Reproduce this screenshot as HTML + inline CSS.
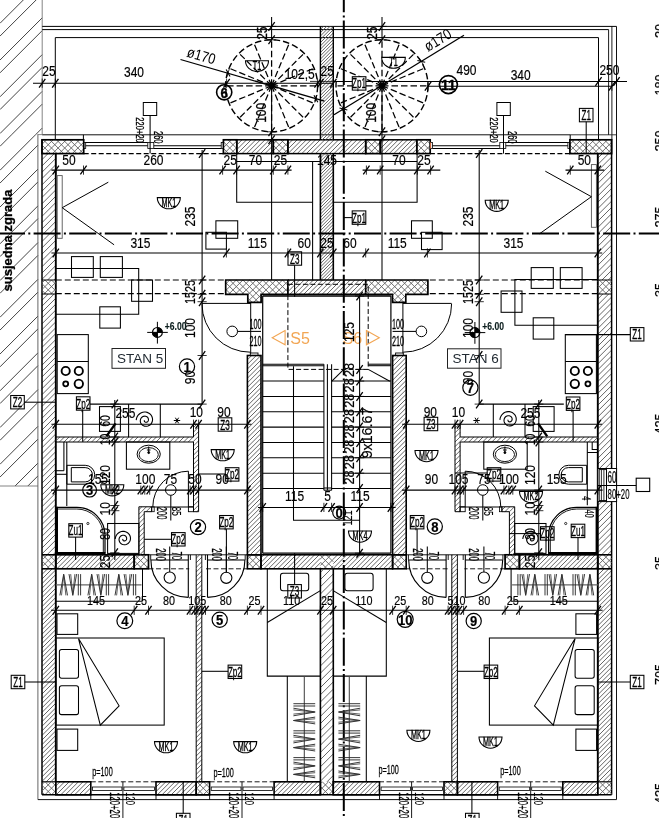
<!DOCTYPE html><html><head><meta charset="utf-8"><title>Tlocrt</title><style>html,body{margin:0;padding:0;background:#fff}svg{display:block}text{font-family:"Liberation Sans",sans-serif}svg{will-change:transform}</style></head><body><svg width="659" height="818" viewBox="0 0 659 818"><rect width="659" height="818" fill="#fff"/><path d="M0 23.3L23.3 0M0 60.05L42.2 17.85M0 96.8L42.2 54.6M0 133.55L42.2 91.35M36.1 134.2L42.2 128.1" fill="none" stroke="#444" stroke-width="1"/>
<path d="M0 170.3L36.1 134.2M0 207.05L37.9 169.15M0 243.8L37.9 205.9M0 280.55L37.9 242.65M0 317.3L37.9 279.4M0 354.05L37.9 316.15M0 390.8L37.9 352.9M0 427.55L37.9 389.65M0 464.3L37.9 426.4M15.05 486L37.9 463.15" fill="none" stroke="#444" stroke-width="1"/>
<path d="M0 36.1L36.1 0M0 72.85L42.2 30.65M0 109.6L42.2 67.4M12.15 134.2L42.2 104.15" fill="none" stroke="#444" stroke-width="1"/>
<path d="M0 146.35L12.15 134.2M0 183.1L37.9 145.2M0 219.85L37.9 181.95M0 256.6L37.9 218.7M0 293.35L37.9 255.45M0 330.1L37.9 292.2M0 366.85L37.9 328.95M0 403.6L37.9 365.7M0 440.35L37.9 402.45M0 477.1L37.9 439.2M27.85 486L37.9 475.95" fill="none" stroke="#444" stroke-width="1"/>
<line x1="42.2" y1="0" x2="42.2" y2="134.2" stroke="#777" stroke-width="0.9"/>
<line x1="0" y1="486" x2="37.9" y2="486" stroke="#777" stroke-width="0.9"/>
<text transform="translate(12.2 291.5) rotate(-90) scale(1 1)" font-size="13" text-anchor="start" fill="#000" font-weight="bold" stroke="#000" stroke-width="0.3">susjedna zgrada</text>
<line x1="37.9" y1="134.2" x2="37.9" y2="799.6" stroke="#555" stroke-width="0.9"/>
<line x1="37.9" y1="799.6" x2="616.5" y2="799.6" stroke="#111" stroke-width="1"/>
<line x1="616.5" y1="26.4" x2="616.5" y2="799.6" stroke="#111" stroke-width="1"/>
<line x1="42.2" y1="26.4" x2="616.5" y2="26.4" stroke="#000" stroke-width="1"/>
<line x1="42.2" y1="29.6" x2="608.6" y2="29.6" stroke="#000" stroke-width="1"/>
<line x1="608.6" y1="29.6" x2="608.6" y2="135" stroke="#000" stroke-width="0.9"/>
<line x1="611.9" y1="26.4" x2="611.9" y2="140" stroke="#000" stroke-width="0.9"/>
<line x1="55.3" y1="37.6" x2="598.5" y2="37.6" stroke="#000" stroke-width="1"/>
<line x1="55.3" y1="37.6" x2="55.3" y2="140" stroke="#000" stroke-width="1"/>
<line x1="598.5" y1="37.6" x2="598.5" y2="140" stroke="#000" stroke-width="1"/>
<line x1="37.9" y1="134.6" x2="42.2" y2="134.6" stroke="#777" stroke-width="0.9"/>
<line x1="42.2" y1="134.8" x2="570" y2="134.8" stroke="#111" stroke-width="1"/>
<line x1="570" y1="134.8" x2="616.5" y2="134.8" stroke="#222" stroke-width="0.9"/>
<line x1="83.4" y1="134.8" x2="83.4" y2="140" stroke="#000" stroke-width="1"/>
<line x1="570.2" y1="134.8" x2="570.2" y2="140" stroke="#000" stroke-width="1"/>
<path d="M42 159.6L48 153.6M42 165.9L54.3 153.6M42 172.2L55.8 158.4M42 178.5L55.8 164.7M42 184.8L55.8 171M42 191.1L55.8 177.3M42 197.4L55.8 183.6M42 203.7L55.8 189.9M42 210L55.8 196.2M42 216.3L55.8 202.5M42 222.6L55.8 208.8M42 228.9L55.8 215.1M42 235.2L55.8 221.4M42 241.5L55.8 227.7M42 247.8L55.8 234M42 254.1L55.8 240.3M42 260.4L55.8 246.6M42 266.7L55.8 252.9M42 273L55.8 259.2M42 279.3L55.8 265.5M47.6 280L55.8 271.8M53.9 280L55.8 278.1" fill="none" stroke="#555" stroke-width="0.9"/>
<path d="M42 294.3L42.3 294M42 300.2L48.2 294M42 306.1L54.1 294M42 312L55.8 298.2M42 317.9L55.8 304.1M42 323.8L55.8 310M42 329.7L55.8 315.9M42 335.6L55.8 321.8M42 341.5L55.8 327.7M42 347.4L55.8 333.6M42 353.3L55.8 339.5M42 359.2L55.8 345.4M42 365.1L55.8 351.3M42 371L55.8 357.2M42 376.9L55.8 363.1M42 382.8L55.8 369M42 388.7L55.8 374.9M42 394.6L55.8 380.8M42 400.5L55.8 386.7M42 406.4L55.8 392.6M42 412.3L55.8 398.5M42 418.2L55.8 404.4M42 424.1L55.8 410.3M42 430L55.8 416.2M42 435.9L55.8 422.1M42 441.8L55.8 428M42 447.7L55.8 433.9M42 453.6L55.8 439.8M42 459.5L55.8 445.7M42 465.4L55.8 451.6M42 471.3L55.8 457.5M42 477.2L55.8 463.4M42 483.1L55.8 469.3M42 489L55.8 475.2M42 494.9L55.8 481.1M42 500.8L55.8 487M42 506.7L55.8 492.9M42 512.6L55.8 498.8M42 518.5L55.8 504.7M42 524.4L55.8 510.6M42 530.3L55.8 516.5M42 536.2L55.8 522.4M42 542.1L55.8 528.3M42 548L55.8 534.2M42 553.9L55.8 540.1M47 554.8L55.8 546M52.9 554.8L55.8 551.9" fill="none" stroke="#555" stroke-width="0.9"/>
<path d="M42 569.8L43 568.8M42 574.4L47.6 568.8M42 579L52.2 568.8M42 583.6L55.8 569.8M42 588.2L55.8 574.4M42 592.8L55.8 579M42 597.4L55.8 583.6M42 602L55.8 588.2M42 606.6L55.8 592.8M42 611.2L55.8 597.4M42 615.8L55.8 602M42 620.4L55.8 606.6M42 625L55.8 611.2M42 629.6L55.8 615.8M42 634.2L55.8 620.4M42 638.8L55.8 625M42 643.4L55.8 629.6M42 648L55.8 634.2M42 652.6L55.8 638.8M42 657.2L55.8 643.4M42 661.8L55.8 648M42 666.4L55.8 652.6M42 671L55.8 657.2M42 675.6L55.8 661.8M42 680.2L55.8 666.4M42 684.8L55.8 671M42 689.4L55.8 675.6M42 694L55.8 680.2M42 698.6L55.8 684.8M42 703.2L55.8 689.4M42 707.8L55.8 694M42 712.4L55.8 698.6M42 717L55.8 703.2M42 721.6L55.8 707.8M42 726.2L55.8 712.4M42 730.8L55.8 717M42 735.4L55.8 721.6M42 740L55.8 726.2M42 744.6L55.8 730.8M42 749.2L55.8 735.4M42 753.8L55.8 740M42 758.4L55.8 744.6M42 763L55.8 749.2M42 767.6L55.8 753.8M42 772.2L55.8 758.4M42 776.8L55.8 763M42 781.4L55.8 767.6M46.2 781.8L55.8 772.2M50.8 781.8L55.8 776.8M55.4 781.8L55.8 781.4" fill="none" stroke="#555" stroke-width="0.9"/>
<line x1="42" y1="139.8" x2="42" y2="794.8" stroke="#000" stroke-width="1.5"/>
<line x1="55.8" y1="153.6" x2="55.8" y2="781.8" stroke="#000" stroke-width="1.9"/>
<path d="M42 144.3L46.5 139.8M42 150.9L53.1 139.8M45.9 153.6L59.7 139.8M52.5 153.6L66.3 139.8M59.1 153.6L72.9 139.8M65.7 153.6L79.5 139.8M72.3 153.6L83.7 142.2M78.9 153.6L83.7 148.8" fill="none" stroke="#606060" stroke-width="0.9"/>
<path d="M42 151.7L43.9 153.6M42 145.1L50.5 153.6M43.3 139.8L57.1 153.6M49.9 139.8L63.7 153.6M56.5 139.8L70.3 153.6M63.1 139.8L76.9 153.6M69.7 139.8L83.5 153.6M76.3 139.8L83.7 147.2M82.9 139.8L83.7 140.6" fill="none" stroke="#606060" stroke-width="0.9"/>
<rect x="42" y="139.8" width="41.7" height="13.8" fill="none" stroke="#000" stroke-width="1.7"/>
<path d="M42 282.9L44.9 280M42 289.5L51.5 280M44.1 294L55.8 282.3M50.7 294L55.8 288.9" fill="none" stroke="#606060" stroke-width="0.9"/>
<path d="M42 290.3L45.7 294M42 283.7L52.3 294M44.9 280L55.8 290.9M51.5 280L55.8 284.3" fill="none" stroke="#606060" stroke-width="0.9"/>
<line x1="42" y1="280" x2="55.8" y2="280" stroke="#000" stroke-width="1"/>
<line x1="42" y1="294" x2="55.8" y2="294" stroke="#000" stroke-width="1"/>
<path d="M42 560.1L47.3 554.8M42 566.7L53.9 554.8M46.5 568.8L55.8 559.5M53.1 568.8L55.8 566.1" fill="none" stroke="#606060" stroke-width="0.9"/>
<path d="M42 567.5L43.3 568.8M42 560.9L49.9 568.8M42.5 554.8L55.8 568.1M49.1 554.8L55.8 561.5" fill="none" stroke="#606060" stroke-width="0.9"/>
<line x1="42" y1="554.8" x2="55.8" y2="554.8" stroke="#000" stroke-width="1.6"/>
<line x1="42" y1="568.8" x2="55.8" y2="568.8" stroke="#000" stroke-width="1.6"/>
<line x1="42" y1="781.8" x2="55.8" y2="781.8" stroke="#000" stroke-width="1.2"/>
<line x1="55.8" y1="781.8" x2="55.8" y2="794.8" stroke="#000" stroke-width="1"/>
<path d="M42 784.5L44.7 781.8M42 791.1L51.3 781.8M44.9 794.8L55.8 783.9M51.5 794.8L55.8 790.5" fill="none" stroke="#606060" stroke-width="0.9"/>
<path d="M42 791.9L44.9 794.8M42 785.3L51.5 794.8M45.1 781.8L55.8 792.5M51.7 781.8L55.8 785.9" fill="none" stroke="#606060" stroke-width="0.9"/>
<path d="M597.8 158.2L602.4 153.6M597.8 164.5L608.7 153.6M597.8 170.8L611.6 157M597.8 177.1L611.6 163.3M597.8 183.4L611.6 169.6M597.8 189.7L611.6 175.9M597.8 196L611.6 182.2M597.8 202.3L611.6 188.5M597.8 208.6L611.6 194.8M597.8 214.9L611.6 201.1M597.8 221.2L611.6 207.4M597.8 227.5L611.6 213.7M597.8 233.8L611.6 220M597.8 240.1L611.6 226.3M597.8 246.4L611.6 232.6M597.8 252.7L611.6 238.9M597.8 259L611.6 245.2M597.8 265.3L611.6 251.5M597.8 271.6L611.6 257.8M597.8 277.9L611.6 264.1M602 280L611.6 270.4M608.3 280L611.6 276.7" fill="none" stroke="#555" stroke-width="0.9"/>
<path d="M597.8 299L602.8 294M597.8 304.9L608.7 294M597.8 310.8L611.6 297M597.8 316.7L611.6 302.9M597.8 322.6L611.6 308.8M597.8 328.5L611.6 314.7M597.8 334.4L611.6 320.6M597.8 340.3L611.6 326.5M597.8 346.2L611.6 332.4M597.8 352.1L611.6 338.3M597.8 358L611.6 344.2M597.8 363.9L611.6 350.1M597.8 369.8L611.6 356M597.8 375.7L611.6 361.9M597.8 381.6L611.6 367.8M597.8 387.5L611.6 373.7M597.8 393.4L611.6 379.6M597.8 399.3L611.6 385.5M597.8 405.2L611.6 391.4M597.8 411.1L611.6 397.3M597.8 417L611.6 403.2M597.8 422.9L611.6 409.1M597.8 428.8L611.6 415M597.8 434.7L611.6 420.9M597.8 440.6L611.6 426.8M597.8 446.5L611.6 432.7M597.8 452.4L611.6 438.6M597.8 458.3L611.6 444.5M597.8 464.2L611.6 450.4M597.8 470.1L611.6 456.3M597.8 476L611.6 462.2M597.8 481.9L611.6 468.1M597.8 487.8L611.6 474M597.8 493.7L611.6 479.9M597.8 499.6L611.6 485.8M597.8 505.5L611.6 491.7M597.8 511.4L611.6 497.6M597.8 517.3L611.6 503.5M597.8 523.2L611.6 509.4M597.8 529.1L611.6 515.3M597.8 535L611.6 521.2M597.8 540.9L611.6 527.1M597.8 546.8L611.6 533M597.8 552.7L611.6 538.9M601.6 554.8L611.6 544.8M607.5 554.8L611.6 550.7" fill="none" stroke="#555" stroke-width="0.9"/>
<path d="M597.8 570.6L599.6 568.8M597.8 575.2L604.2 568.8M597.8 579.8L608.8 568.8M597.8 584.4L611.6 570.6M597.8 589L611.6 575.2M597.8 593.6L611.6 579.8M597.8 598.2L611.6 584.4M597.8 602.8L611.6 589M597.8 607.4L611.6 593.6M597.8 612L611.6 598.2M597.8 616.6L611.6 602.8M597.8 621.2L611.6 607.4M597.8 625.8L611.6 612M597.8 630.4L611.6 616.6M597.8 635L611.6 621.2M597.8 639.6L611.6 625.8M597.8 644.2L611.6 630.4M597.8 648.8L611.6 635M597.8 653.4L611.6 639.6M597.8 658L611.6 644.2M597.8 662.6L611.6 648.8M597.8 667.2L611.6 653.4M597.8 671.8L611.6 658M597.8 676.4L611.6 662.6M597.8 681L611.6 667.2M597.8 685.6L611.6 671.8M597.8 690.2L611.6 676.4M597.8 694.8L611.6 681M597.8 699.4L611.6 685.6M597.8 704L611.6 690.2M597.8 708.6L611.6 694.8M597.8 713.2L611.6 699.4M597.8 717.8L611.6 704M597.8 722.4L611.6 708.6M597.8 727L611.6 713.2M597.8 731.6L611.6 717.8M597.8 736.2L611.6 722.4M597.8 740.8L611.6 727M597.8 745.4L611.6 731.6M597.8 750L611.6 736.2M597.8 754.6L611.6 740.8M597.8 759.2L611.6 745.4M597.8 763.8L611.6 750M597.8 768.4L611.6 754.6M597.8 773L611.6 759.2M597.8 777.6L611.6 763.8M598.2 781.8L611.6 768.4M602.8 781.8L611.6 773M607.4 781.8L611.6 777.6" fill="none" stroke="#555" stroke-width="0.9"/>
<line x1="611.6" y1="139.8" x2="611.6" y2="794.8" stroke="#000" stroke-width="1.5"/>
<line x1="597.8" y1="153.6" x2="597.8" y2="781.8" stroke="#000" stroke-width="1.9"/>
<path d="M569.9 144.4L574.5 139.8M569.9 151L581.1 139.8M573.9 153.6L587.7 139.8M580.5 153.6L594.3 139.8M587.1 153.6L600.9 139.8M593.7 153.6L607.5 139.8M600.3 153.6L611.6 142.3M606.9 153.6L611.6 148.9" fill="none" stroke="#606060" stroke-width="0.9"/>
<path d="M569.9 151.6L571.9 153.6M569.9 145L578.5 153.6M571.3 139.8L585.1 153.6M577.9 139.8L591.7 153.6M584.5 139.8L598.3 153.6M591.1 139.8L604.9 153.6M597.7 139.8L611.5 153.6M604.3 139.8L611.6 147.1M610.9 139.8L611.6 140.5" fill="none" stroke="#606060" stroke-width="0.9"/>
<rect x="569.9" y="139.8" width="41.7" height="13.8" fill="none" stroke="#000" stroke-width="1.7"/>
<path d="M597.8 281.5L599.3 280M597.8 288.1L605.9 280M598.5 294L611.6 280.9M605.1 294L611.6 287.5" fill="none" stroke="#606060" stroke-width="0.9"/>
<path d="M597.8 291.7L600.1 294M597.8 285.1L606.7 294M599.3 280L611.6 292.3M605.9 280L611.6 285.7" fill="none" stroke="#606060" stroke-width="0.9"/>
<line x1="611.6" y1="280" x2="597.8" y2="280" stroke="#000" stroke-width="1"/>
<line x1="611.6" y1="294" x2="597.8" y2="294" stroke="#000" stroke-width="1"/>
<path d="M597.8 558.7L601.7 554.8M597.8 565.3L608.3 554.8M600.9 568.8L611.6 558.1M607.5 568.8L611.6 564.7" fill="none" stroke="#606060" stroke-width="0.9"/>
<path d="M597.8 562.3L604.3 568.8M597.8 555.7L610.9 568.8M603.5 554.8L611.6 562.9M610.1 554.8L611.6 556.3" fill="none" stroke="#606060" stroke-width="0.9"/>
<line x1="611.6" y1="554.8" x2="597.8" y2="554.8" stroke="#000" stroke-width="1.6"/>
<line x1="611.6" y1="568.8" x2="597.8" y2="568.8" stroke="#000" stroke-width="1.6"/>
<line x1="611.6" y1="781.8" x2="597.8" y2="781.8" stroke="#000" stroke-width="1.2"/>
<line x1="597.8" y1="781.8" x2="597.8" y2="794.8" stroke="#000" stroke-width="1"/>
<path d="M597.8 783.1L599.1 781.8M597.8 789.7L605.7 781.8M599.3 794.8L611.6 782.5M605.9 794.8L611.6 789.1" fill="none" stroke="#606060" stroke-width="0.9"/>
<path d="M597.8 793.3L599.3 794.8M597.8 786.7L605.9 794.8M599.5 781.8L611.6 793.9M606.1 781.8L611.6 787.3" fill="none" stroke="#606060" stroke-width="0.9"/>
<path d="M223.4 141.1L224.7 139.8M223.4 147.7L231.3 139.8M224.1 153.6L236.8 140.9M230.7 153.6L236.8 147.5" fill="none" stroke="#606060" stroke-width="0.9"/>
<path d="M223.4 148.3L228.7 153.6M223.4 141.7L235.3 153.6M228.1 139.8L236.8 148.5M234.7 139.8L236.8 141.9" fill="none" stroke="#606060" stroke-width="0.9"/>
<rect x="223.4" y="139.8" width="13.4" height="13.8" fill="none" stroke="#000" stroke-width="1.7"/>
<path d="M236.8 140.4L237.4 139.8M236.8 145L242 139.8M236.8 149.6L246.6 139.8M237.4 153.6L251.2 139.8M242 153.6L255.8 139.8M246.6 153.6L260.4 139.8M251.2 153.6L265 139.8M255.8 153.6L269.6 139.8M260.4 153.6L273.3 140.7M265 153.6L273.3 145.3M269.6 153.6L273.3 149.9" fill="none" stroke="#555" stroke-width="0.9"/>
<rect x="236.8" y="139.8" width="36.5" height="13.8" fill="none" stroke="#000" stroke-width="1.5"/>
<path d="M273.3 144L277.5 139.8M273.3 150.6L284.1 139.8M276.9 153.6L287.9 142.6M283.5 153.6L287.9 149.2" fill="none" stroke="#606060" stroke-width="0.9"/>
<path d="M273.3 152L274.9 153.6M273.3 145.4L281.5 153.6M274.3 139.8L287.9 153.4M280.9 139.8L287.9 146.8M287.5 139.8L287.9 140.2" fill="none" stroke="#606060" stroke-width="0.9"/>
<rect x="273.3" y="139.8" width="14.6" height="13.8" fill="none" stroke="#000" stroke-width="1.7"/>
<path d="M416.8 145.7L422.7 139.8M416.8 152.3L429.3 139.8M422.1 153.6L430.2 145.5M428.7 153.6L430.2 152.1" fill="none" stroke="#606060" stroke-width="0.9"/>
<path d="M416.8 150.3L420.1 153.6M416.8 143.7L426.7 153.6M419.5 139.8L430.2 150.5M426.1 139.8L430.2 143.9" fill="none" stroke="#606060" stroke-width="0.9"/>
<rect x="416.8" y="139.8" width="13.4" height="13.8" fill="none" stroke="#000" stroke-width="1.7"/>
<path d="M380.3 144.1L384.6 139.8M380.3 148.7L389.2 139.8M380.3 153.3L393.8 139.8M384.6 153.6L398.4 139.8M389.2 153.6L403 139.8M393.8 153.6L407.6 139.8M398.4 153.6L412.2 139.8M403 153.6L416.8 139.8M407.6 153.6L416.8 144.4M412.2 153.6L416.8 149" fill="none" stroke="#555" stroke-width="0.9"/>
<rect x="380.3" y="139.8" width="36.5" height="13.8" fill="none" stroke="#000" stroke-width="1.5"/>
<path d="M365.7 144L369.9 139.8M365.7 150.6L376.5 139.8M369.3 153.6L380.3 142.6M375.9 153.6L380.3 149.2" fill="none" stroke="#606060" stroke-width="0.9"/>
<path d="M365.7 152L367.3 153.6M365.7 145.4L373.9 153.6M366.7 139.8L380.3 153.4M373.3 139.8L380.3 146.8M379.9 139.8L380.3 140.2" fill="none" stroke="#606060" stroke-width="0.9"/>
<rect x="365.7" y="139.8" width="14.6" height="13.8" fill="none" stroke="#000" stroke-width="1.7"/>
<path d="M287.9 144.5L292.6 139.8M287.9 149.1L297.2 139.8M288 153.6L301.8 139.8M292.6 153.6L306.4 139.8M297.2 153.6L311 139.8M301.8 153.6L315.6 139.8M306.4 153.6L320.2 139.8M311 153.6L324.8 139.8M315.6 153.6L329.4 139.8M320.2 153.6L334 139.8M324.8 153.6L338.6 139.8M329.4 153.6L343.2 139.8M334 153.6L347.8 139.8M338.6 153.6L352.4 139.8M343.2 153.6L357 139.8M347.8 153.6L361.6 139.8M352.4 153.6L365.7 140.3M357 153.6L365.7 144.9M361.6 153.6L365.7 149.5" fill="none" stroke="#555" stroke-width="0.9"/>
<rect x="287.9" y="139.8" width="77.8" height="13.8" fill="none" stroke="#000" stroke-width="1.5"/>
<path d="M320.4 29.4L323.4 26.4M320.4 32.7L326.7 26.4M320.4 36L330 26.4M320.4 39.3L333.3 26.4M320.4 42.6L333.3 29.7M320.4 45.9L333.3 33M320.4 49.2L333.3 36.3M320.4 52.5L333.3 39.6M320.4 55.8L333.3 42.9M320.4 59.1L333.3 46.2M320.4 62.4L333.3 49.5M320.4 65.7L333.3 52.8M320.4 69L333.3 56.1M320.4 72.3L333.3 59.4M320.4 75.6L333.3 62.7M320.4 78.9L333.3 66M320.4 82.2L333.3 69.3M320.4 85.5L333.3 72.6M320.4 88.8L333.3 75.9M320.4 92.1L333.3 79.2M320.4 95.4L333.3 82.5M320.4 98.7L333.3 85.8M320.4 102L333.3 89.1M320.4 105.3L333.3 92.4M320.4 108.6L333.3 95.7M320.4 111.9L333.3 99M320.4 115.2L333.3 102.3M320.4 118.5L333.3 105.6M320.4 121.8L333.3 108.9M320.4 125.1L333.3 112.2M320.4 128.4L333.3 115.5M320.4 131.7L333.3 118.8M320.4 135L333.3 122.1M320.4 138.3L333.3 125.4M322.2 139.8L333.3 128.7M325.5 139.8L333.3 132M328.8 139.8L333.3 135.3M332.1 139.8L333.3 138.6" fill="none" stroke="#555" stroke-width="0.9"/>
<line x1="320.4" y1="26.4" x2="320.4" y2="139.8" stroke="#000" stroke-width="1.4"/>
<line x1="333.3" y1="26.4" x2="333.3" y2="139.8" stroke="#000" stroke-width="1.4"/>
<path d="M320.4 154.8L321.6 153.6M320.4 158.1L324.9 153.6M320.4 161.4L328.2 153.6M320.4 164.7L331.5 153.6M320.4 168L333.3 155.1M320.4 171.3L333.3 158.4M320.4 174.6L333.3 161.7M320.4 177.9L333.3 165M320.4 181.2L333.3 168.3M320.4 184.5L333.3 171.6M320.4 187.8L333.3 174.9M320.4 191.1L333.3 178.2M320.4 194.4L333.3 181.5M320.4 197.7L333.3 184.8M320.4 201L333.3 188.1M320.4 204.3L333.3 191.4M320.4 207.6L333.3 194.7M320.4 210.9L333.3 198M320.4 214.2L333.3 201.3M320.4 217.5L333.3 204.6M320.4 220.8L333.3 207.9M320.4 224.1L333.3 211.2M320.4 227.4L333.3 214.5M320.4 230.7L333.3 217.8M320.4 234L333.3 221.1M320.4 237.3L333.3 224.4M320.4 240.6L333.3 227.7M320.4 243.9L333.3 231M320.4 247.2L333.3 234.3M320.4 250.5L333.3 237.6M320.4 253.8L333.3 240.9M320.4 257.1L333.3 244.2M320.4 260.4L333.3 247.5M320.4 263.7L333.3 250.8M320.4 267L333.3 254.1M320.4 270.3L333.3 257.4M320.4 273.6L333.3 260.7M320.4 276.9L333.3 264M320.6 280L333.3 267.3M323.9 280L333.3 270.6M327.2 280L333.3 273.9M330.5 280L333.3 277.2" fill="none" stroke="#555" stroke-width="0.9"/>
<line x1="320.4" y1="153.6" x2="320.4" y2="280" stroke="#000" stroke-width="1.6"/>
<line x1="333.3" y1="153.6" x2="333.3" y2="280" stroke="#000" stroke-width="1.6"/>
<path d="M225.7 284L229.7 280M225.7 290.6L236.3 280M228.6 294.3L242.9 280M235.2 294.3L249.5 280M241.8 294.3L256.1 280M248.4 294.3L262.7 280M255 294.3L269.3 280M261.6 294.3L275.9 280M268.2 294.3L282.5 280M274.8 294.3L287.9 281.2M281.4 294.3L287.9 287.8" fill="none" stroke="#606060" stroke-width="0.9"/>
<path d="M225.7 289.2L230.8 294.3M225.7 282.6L237.4 294.3M229.7 280L244 294.3M236.3 280L250.6 294.3M242.9 280L257.2 294.3M249.5 280L263.8 294.3M256.1 280L270.4 294.3M262.7 280L277 294.3M269.3 280L283.6 294.3M275.9 280L287.9 292M282.5 280L287.9 285.4" fill="none" stroke="#606060" stroke-width="0.9"/>
<path d="M247.8 294.9L248.4 294.3M247.8 301.5L255 294.3M253.6 302.3L261.1 294.8M260.2 302.3L261.1 301.4" fill="none" stroke="#606060" stroke-width="0.9"/>
<path d="M247.8 298.1L252 302.3M250.6 294.3L258.6 302.3M257.2 294.3L261.1 298.2" fill="none" stroke="#606060" stroke-width="0.9"/>
<polygon points="225.7,280 287.9,280 287.9,294.3 261.1,294.3 261.1,302.3 247.8,302.3 247.8,294.3 225.7,294.3" fill="none" stroke="#000" stroke-width="1.7"/>
<path d="M365.7 282.6L368.3 280M365.7 289.2L374.9 280M367.2 294.3L381.5 280M373.8 294.3L388.1 280M380.4 294.3L394.7 280M387 294.3L401.3 280M393.6 294.3L407.9 280M400.2 294.3L414.5 280M406.8 294.3L421.1 280M413.4 294.3L427.7 280M420 294.3L427.9 286.4M426.6 294.3L427.9 293" fill="none" stroke="#606060" stroke-width="0.9"/>
<path d="M365.7 290.6L369.4 294.3M365.7 284L376 294.3M368.3 280L382.6 294.3M374.9 280L389.2 294.3M381.5 280L395.8 294.3M388.1 280L402.4 294.3M394.7 280L409 294.3M401.3 280L415.6 294.3M407.9 280L422.2 294.3M414.5 280L427.9 293.4M421.1 280L427.9 286.8" fill="none" stroke="#606060" stroke-width="0.9"/>
<path d="M392.5 295.4L393.6 294.3M392.5 302L400.2 294.3M398.8 302.3L405.8 295.3M405.4 302.3L405.8 301.9" fill="none" stroke="#606060" stroke-width="0.9"/>
<path d="M392.5 297.6L397.2 302.3M395.8 294.3L403.8 302.3M402.4 294.3L405.8 297.7" fill="none" stroke="#606060" stroke-width="0.9"/>
<polygon points="427.9,280 365.7,280 365.7,294.3 392.5,294.3 392.5,302.3 405.8,302.3 405.8,294.3 427.9,294.3" fill="none" stroke="#000" stroke-width="1.7"/>
<path d="M287.9 282.5L290.4 280M287.9 287.1L295 280M287.9 291.7L299.6 280M289.9 294.3L304.2 280M294.5 294.3L308.8 280M299.1 294.3L313.4 280M303.7 294.3L318 280M308.3 294.3L322.6 280M312.9 294.3L327.2 280M317.5 294.3L331.8 280M322.1 294.3L336.4 280M326.7 294.3L341 280M331.3 294.3L345.6 280M335.9 294.3L350.2 280M340.5 294.3L354.8 280M345.1 294.3L359.4 280M349.7 294.3L364 280M354.3 294.3L365.7 282.9M358.9 294.3L365.7 287.5M363.5 294.3L365.7 292.1" fill="none" stroke="#555" stroke-width="0.9"/>
<line x1="287.9" y1="280" x2="365.7" y2="280" stroke="#000" stroke-width="1.6"/>
<line x1="287.9" y1="294.3" x2="365.7" y2="294.3" stroke="#000" stroke-width="1.6"/>
<path d="M247.4 359.8L251.7 355.5M247.4 364.4L256.3 355.5M247.4 369L260.9 355.5M247.4 373.6L261 360M247.4 378.2L261 364.6M247.4 382.8L261 369.2M247.4 387.4L261 373.8M247.4 392L261 378.4M247.4 396.6L261 383M247.4 401.2L261 387.6M247.4 405.8L261 392.2M247.4 410.4L261 396.8M247.4 415L261 401.4M247.4 419.6L261 406M247.4 424.2L261 410.6M247.4 428.8L261 415.2M247.4 433.4L261 419.8M247.4 438L261 424.4M247.4 442.6L261 429M247.4 447.2L261 433.6M247.4 451.8L261 438.2M247.4 456.4L261 442.8M247.4 461L261 447.4M247.4 465.6L261 452M247.4 470.2L261 456.6M247.4 474.8L261 461.2M247.4 479.4L261 465.8M247.4 484L261 470.4M247.4 488.6L261 475M247.4 493.2L261 479.6M247.4 497.8L261 484.2M247.4 502.4L261 488.8M247.4 507L261 493.4M247.4 511.6L261 498M247.4 516.2L261 502.6M247.4 520.8L261 507.2M247.4 525.4L261 511.8M247.4 530L261 516.4M247.4 534.6L261 521M247.4 539.2L261 525.6M247.4 543.8L261 530.2M247.4 548.4L261 534.8M247.4 553L261 539.4M250.2 554.8L261 544M254.8 554.8L261 548.6M259.4 554.8L261 553.2" fill="none" stroke="#555" stroke-width="0.9"/>
<rect x="247.4" y="355.5" width="13.6" height="199.3" fill="none" stroke="#000" stroke-width="1.6"/>
<rect x="250.3" y="353" width="7.7" height="2.5" fill="none" stroke="#000" stroke-width="0.9"/>
<path d="M247.4 559.3L251.9 554.8M247.4 565.9L258.5 554.8M251.1 568.8L261 558.9M257.7 568.8L261 565.5" fill="none" stroke="#606060" stroke-width="0.9"/>
<path d="M247.4 568.3L247.9 568.8M247.4 561.7L254.5 568.8M247.4 555.1L261 568.7M253.7 554.8L261 562.1M260.3 554.8L261 555.5" fill="none" stroke="#606060" stroke-width="0.9"/>
<rect x="247.4" y="554.8" width="13.6" height="14" fill="none" stroke="#000" stroke-width="1.6"/>
<path d="M392.6 357.2L394.3 355.5M392.6 361.8L398.9 355.5M392.6 366.4L403.5 355.5M392.6 371L406.2 357.4M392.6 375.6L406.2 362M392.6 380.2L406.2 366.6M392.6 384.8L406.2 371.2M392.6 389.4L406.2 375.8M392.6 394L406.2 380.4M392.6 398.6L406.2 385M392.6 403.2L406.2 389.6M392.6 407.8L406.2 394.2M392.6 412.4L406.2 398.8M392.6 417L406.2 403.4M392.6 421.6L406.2 408M392.6 426.2L406.2 412.6M392.6 430.8L406.2 417.2M392.6 435.4L406.2 421.8M392.6 440L406.2 426.4M392.6 444.6L406.2 431M392.6 449.2L406.2 435.6M392.6 453.8L406.2 440.2M392.6 458.4L406.2 444.8M392.6 463L406.2 449.4M392.6 467.6L406.2 454M392.6 472.2L406.2 458.6M392.6 476.8L406.2 463.2M392.6 481.4L406.2 467.8M392.6 486L406.2 472.4M392.6 490.6L406.2 477M392.6 495.2L406.2 481.6M392.6 499.8L406.2 486.2M392.6 504.4L406.2 490.8M392.6 509L406.2 495.4M392.6 513.6L406.2 500M392.6 518.2L406.2 504.6M392.6 522.8L406.2 509.2M392.6 527.4L406.2 513.8M392.6 532L406.2 518.4M392.6 536.6L406.2 523M392.6 541.2L406.2 527.6M392.6 545.8L406.2 532.2M392.6 550.4L406.2 536.8M392.8 554.8L406.2 541.4M397.4 554.8L406.2 546M402 554.8L406.2 550.6" fill="none" stroke="#555" stroke-width="0.9"/>
<rect x="392.6" y="355.5" width="13.6" height="199.3" fill="none" stroke="#000" stroke-width="1.6"/>
<rect x="395.6" y="353" width="7.7" height="2.5" fill="none" stroke="#000" stroke-width="0.9"/>
<path d="M392.6 559.3L397.1 554.8M392.6 565.9L403.7 554.8M396.3 568.8L406.2 558.9M402.9 568.8L406.2 565.5" fill="none" stroke="#606060" stroke-width="0.9"/>
<path d="M392.6 568.3L393.1 568.8M392.6 561.7L399.7 568.8M392.6 555.1L406.2 568.7M398.9 554.8L406.2 562.1M405.5 554.8L406.2 555.5" fill="none" stroke="#606060" stroke-width="0.9"/>
<rect x="392.6" y="554.8" width="13.6" height="14" fill="none" stroke="#000" stroke-width="1.6"/>
<path d="M261 557.8L264 554.8M261 562.4L268.6 554.8M261 567L273.2 554.8M263.8 568.8L277.8 554.8M268.4 568.8L282.4 554.8M273 568.8L287 554.8M277.6 568.8L291.6 554.8M282.2 568.8L296.2 554.8M286.8 568.8L300.8 554.8M291.4 568.8L305.4 554.8M296 568.8L310 554.8M300.6 568.8L314.6 554.8M305.2 568.8L319.2 554.8M309.8 568.8L320.4 558.2M314.4 568.8L320.4 562.8M319 568.8L320.4 567.4" fill="none" stroke="#555" stroke-width="0.9"/>
<path d="M333.3 559.1L337.6 554.8M333.3 563.7L342.2 554.8M333.3 568.3L346.8 554.8M337.4 568.8L351.4 554.8M342 568.8L356 554.8M346.6 568.8L360.6 554.8M351.2 568.8L365.2 554.8M355.8 568.8L369.8 554.8M360.4 568.8L374.4 554.8M365 568.8L379 554.8M369.6 568.8L383.6 554.8M374.2 568.8L388.2 554.8M378.8 568.8L392.7 554.9M383.4 568.8L392.7 559.5M388 568.8L392.7 564.1" fill="none" stroke="#555" stroke-width="0.9"/>
<path d="M320.4 558.9L324.5 554.8M320.4 565.5L331.1 554.8M323.7 568.8L333.3 559.2M330.3 568.8L333.3 565.8" fill="none" stroke="#606060" stroke-width="0.9"/>
<path d="M320.4 562.1L327.1 568.8M320.4 555.5L333.3 568.4M326.3 554.8L333.3 561.8M332.9 554.8L333.3 555.2" fill="none" stroke="#606060" stroke-width="0.9"/>
<rect x="261" y="554.8" width="131.6" height="14" fill="none" stroke="#000" stroke-width="1.6"/>
<path d="M55.8 556L57 554.8M55.8 560.6L61.6 554.8M55.8 565.2L66.2 554.8M56.8 568.8L70.8 554.8M61.4 568.8L75.4 554.8M66 568.8L80 554.8M70.6 568.8L84.6 554.8M75.2 568.8L89.2 554.8M79.8 568.8L93.8 554.8M84.4 568.8L98.4 554.8M89 568.8L103 554.8M93.6 568.8L107.6 554.8M98.2 568.8L112.2 554.8M102.8 568.8L116.8 554.8M107.4 568.8L121.4 554.8M112 568.8L126 554.8M116.6 568.8L130.6 554.8M121.2 568.8L134.2 555.8M125.8 568.8L134.2 560.4M130.4 568.8L134.2 565" fill="none" stroke="#555" stroke-width="0.9"/>
<rect x="55.8" y="554.8" width="78.4" height="14" fill="none" stroke="#000" stroke-width="1.7"/>
<path d="M134.2 560.3L139.7 554.8M134.2 566.9L146.3 554.8M138.9 568.8L148.5 559.2M145.5 568.8L148.5 565.8" fill="none" stroke="#606060" stroke-width="0.9"/>
<path d="M134.2 567.3L135.7 568.8M134.2 560.7L142.3 568.8M134.9 554.8L148.5 568.4M141.5 554.8L148.5 561.8M148.1 554.8L148.5 555.2" fill="none" stroke="#606060" stroke-width="0.9"/>
<rect x="134.2" y="554.8" width="14.3" height="14" fill="none" stroke="#000" stroke-width="1.7"/>
<path d="M196.2 558.2L199.6 554.8M196.2 562.8L201.8 557.2M196.2 567.4L201.8 561.8M199.4 568.8L201.8 566.4" fill="none" stroke="#555" stroke-width="0.9"/>
<line x1="196.2" y1="554.8" x2="196.2" y2="568.8" stroke="#000" stroke-width="0.9"/>
<line x1="201.8" y1="554.8" x2="201.8" y2="568.8" stroke="#000" stroke-width="0.9"/>
<line x1="148.5" y1="568.8" x2="189.2" y2="568.8" stroke="#000" stroke-width="0.9" stroke-dasharray="5 2.5"/>
<line x1="206" y1="568.8" x2="247.4" y2="568.8" stroke="#000" stroke-width="0.9" stroke-dasharray="5 2.5"/>
<line x1="148.5" y1="554.8" x2="247.4" y2="554.8" stroke="#000" stroke-width="0.9"/>
<path d="M519.4 557L521.6 554.8M519.4 561.6L526.2 554.8M519.4 566.2L530.8 554.8M521.4 568.8L535.4 554.8M526 568.8L540 554.8M530.6 568.8L544.6 554.8M535.2 568.8L549.2 554.8M539.8 568.8L553.8 554.8M544.4 568.8L558.4 554.8M549 568.8L563 554.8M553.6 568.8L567.6 554.8M558.2 568.8L572.2 554.8M562.8 568.8L576.8 554.8M567.4 568.8L581.4 554.8M572 568.8L586 554.8M576.6 568.8L590.6 554.8M581.2 568.8L595.2 554.8M585.8 568.8L597.8 556.8M590.4 568.8L597.8 561.4M595 568.8L597.8 566" fill="none" stroke="#555" stroke-width="0.9"/>
<rect x="519.4" y="554.8" width="78.4" height="14" fill="none" stroke="#000" stroke-width="1.7"/>
<path d="M505.1 559L509.3 554.8M505.1 565.6L515.9 554.8M508.5 568.8L519.4 557.9M515.1 568.8L519.4 564.5" fill="none" stroke="#606060" stroke-width="0.9"/>
<path d="M505.1 562L511.9 568.8M505.1 555.4L518.5 568.8M511.1 554.8L519.4 563.1M517.7 554.8L519.4 556.5" fill="none" stroke="#606060" stroke-width="0.9"/>
<rect x="505.1" y="554.8" width="14.3" height="14" fill="none" stroke="#000" stroke-width="1.7"/>
<path d="M451.8 555.6L452.6 554.8M451.8 560.2L457.2 554.8M451.8 564.8L457.4 559.2M452.4 568.8L457.4 563.8M457 568.8L457.4 568.4" fill="none" stroke="#555" stroke-width="0.9"/>
<line x1="457.4" y1="554.8" x2="457.4" y2="568.8" stroke="#000" stroke-width="0.9"/>
<line x1="451.8" y1="554.8" x2="451.8" y2="568.8" stroke="#000" stroke-width="0.9"/>
<line x1="505.1" y1="568.8" x2="464.4" y2="568.8" stroke="#000" stroke-width="0.9" stroke-dasharray="5 2.5"/>
<line x1="447.6" y1="568.8" x2="406.2" y2="568.8" stroke="#000" stroke-width="0.9" stroke-dasharray="5 2.5"/>
<line x1="505.1" y1="554.8" x2="406.2" y2="554.8" stroke="#000" stroke-width="0.9"/>
<path d="M320.4 572.4L324 568.8M320.4 579.6L331.2 568.8M320.4 586.8L333.3 573.9M320.4 594L333.3 581.1M320.4 601.2L333.3 588.3M320.4 608.4L333.3 595.5M320.4 615.6L333.3 602.7M320.4 622.8L333.3 609.9M320.4 630L333.3 617.1M320.4 637.2L333.3 624.3M320.4 644.4L333.3 631.5M320.4 651.6L333.3 638.7M320.4 658.8L333.3 645.9M320.4 666L333.3 653.1M320.4 673.2L333.3 660.3M320.4 680.4L333.3 667.5M320.4 687.6L333.3 674.7M320.4 694.8L333.3 681.9M320.4 702L333.3 689.1M320.4 709.2L333.3 696.3M320.4 716.4L333.3 703.5M320.4 723.6L333.3 710.7M320.4 730.8L333.3 717.9M320.4 738L333.3 725.1M320.4 745.2L333.3 732.3M320.4 752.4L333.3 739.5M320.4 759.6L333.3 746.7M320.4 766.8L333.3 753.9M320.4 774L333.3 761.1M320.4 781.2L333.3 768.3M327 781.8L333.3 775.5" fill="none" stroke="#555" stroke-width="0.9"/>
<path d="M320.4 783.3L321.9 781.8M320.4 789.9L328.5 781.8M322.1 794.8L333.3 783.6M328.7 794.8L333.3 790.2" fill="none" stroke="#606060" stroke-width="0.9"/>
<path d="M320.4 793.1L322.1 794.8M320.4 786.5L328.7 794.8M322.3 781.8L333.3 792.8M328.9 781.8L333.3 786.2" fill="none" stroke="#606060" stroke-width="0.9"/>
<line x1="320.4" y1="568.8" x2="320.4" y2="794.8" stroke="#000" stroke-width="1.6"/>
<line x1="333.3" y1="568.8" x2="333.3" y2="794.8" stroke="#000" stroke-width="1.6"/>
<path d="M55.8 786L60 781.8M55.8 790.6L64.6 781.8M56.2 794.8L69.2 781.8M60.8 794.8L73.8 781.8M65.4 794.8L78.4 781.8M70 794.8L83 781.8M74.6 794.8L87.6 781.8M79.2 794.8L90.8 783.2M83.8 794.8L90.8 787.8M88.4 794.8L90.8 792.4" fill="none" stroke="#555" stroke-width="0.9"/>
<rect x="55.8" y="781.8" width="35" height="13" fill="none" stroke="#000" stroke-width="1.6"/>
<path d="M156 782.4L156.6 781.8M156 787L161.2 781.8M156 791.6L165.8 781.8M157.4 794.8L170.4 781.8M162 794.8L175 781.8M166.6 794.8L179.6 781.8M171.2 794.8L184.2 781.8M175.8 794.8L188.8 781.8M180.4 794.8L193.4 781.8M185 794.8L196.2 783.6M189.6 794.8L196.2 788.2M194.2 794.8L196.2 792.8" fill="none" stroke="#555" stroke-width="0.9"/>
<rect x="156" y="781.8" width="40.2" height="13" fill="none" stroke="#000" stroke-width="1.6"/>
<path d="M196.2 782.1L196.5 781.8M196.2 788.7L203.1 781.8M196.7 794.8L209.6 781.9M203.3 794.8L209.6 788.5" fill="none" stroke="#606060" stroke-width="0.9"/>
<path d="M196.2 794.3L196.7 794.8M196.2 787.7L203.3 794.8M196.9 781.8L209.6 794.5M203.5 781.8L209.6 787.9" fill="none" stroke="#606060" stroke-width="0.9"/>
<rect x="196.2" y="781.8" width="13.4" height="13" fill="none" stroke="#000" stroke-width="1.6"/>
<path d="M274.1 783.9L276.2 781.8M274.1 788.5L280.8 781.8M274.1 793.1L285.4 781.8M277 794.8L290 781.8M281.6 794.8L294.6 781.8M286.2 794.8L299.2 781.8M290.8 794.8L303.8 781.8M295.4 794.8L308.4 781.8M300 794.8L313 781.8M304.6 794.8L317.6 781.8M309.2 794.8L320.4 783.6M313.8 794.8L320.4 788.2M318.4 794.8L320.4 792.8" fill="none" stroke="#555" stroke-width="0.9"/>
<rect x="274.1" y="781.8" width="46.3" height="13" fill="none" stroke="#000" stroke-width="1.6"/>
<line x1="90.8" y1="781.8" x2="156" y2="781.8" stroke="#000" stroke-width="0.9" stroke-dasharray="5 2.5"/>
<rect x="92.4" y="787" width="29.5" height="3.6" fill="none" stroke="#000" stroke-width="0.8"/>
<rect x="123.9" y="787" width="30.5" height="3.6" fill="none" stroke="#000" stroke-width="0.8"/>
<line x1="90.8" y1="794.8" x2="90.8" y2="799.6" stroke="#000" stroke-width="0.9"/>
<line x1="156" y1="794.8" x2="156" y2="799.6" stroke="#000" stroke-width="0.9"/>
<line x1="122.9" y1="781.8" x2="122.9" y2="818" stroke="#000" stroke-width="0.9"/>
<line x1="209.6" y1="781.8" x2="274.1" y2="781.8" stroke="#000" stroke-width="0.9" stroke-dasharray="5 2.5"/>
<rect x="211.2" y="787" width="29.8" height="3.6" fill="none" stroke="#000" stroke-width="0.8"/>
<rect x="243" y="787" width="29.5" height="3.6" fill="none" stroke="#000" stroke-width="0.8"/>
<line x1="209.6" y1="794.8" x2="209.6" y2="799.6" stroke="#000" stroke-width="0.9"/>
<line x1="274.1" y1="794.8" x2="274.1" y2="799.6" stroke="#000" stroke-width="0.9"/>
<line x1="242" y1="781.8" x2="242" y2="818" stroke="#000" stroke-width="0.9"/>
<path d="M562.8 785L566 781.8M562.8 789.6L570.6 781.8M562.8 794.2L575.2 781.8M566.8 794.8L579.8 781.8M571.4 794.8L584.4 781.8M576 794.8L589 781.8M580.6 794.8L593.6 781.8M585.2 794.8L597.8 782.2M589.8 794.8L597.8 786.8M594.4 794.8L597.8 791.4" fill="none" stroke="#555" stroke-width="0.9"/>
<rect x="562.8" y="781.8" width="35" height="13" fill="none" stroke="#000" stroke-width="1.6"/>
<path d="M457.4 784.6L460.2 781.8M457.4 789.2L464.8 781.8M457.4 793.8L469.4 781.8M461 794.8L474 781.8M465.6 794.8L478.6 781.8M470.2 794.8L483.2 781.8M474.8 794.8L487.8 781.8M479.4 794.8L492.4 781.8M484 794.8L497 781.8M488.6 794.8L497.6 785.8M493.2 794.8L497.6 790.4" fill="none" stroke="#555" stroke-width="0.9"/>
<rect x="457.4" y="781.8" width="40.2" height="13" fill="none" stroke="#000" stroke-width="1.6"/>
<path d="M444 785.1L447.3 781.8M444 791.7L453.9 781.8M447.5 794.8L457.4 784.9M454.1 794.8L457.4 791.5" fill="none" stroke="#606060" stroke-width="0.9"/>
<path d="M444 791.3L447.5 794.8M444 784.7L454.1 794.8M447.7 781.8L457.4 791.5M454.3 781.8L457.4 784.9" fill="none" stroke="#606060" stroke-width="0.9"/>
<rect x="444" y="781.8" width="13.4" height="13" fill="none" stroke="#000" stroke-width="1.6"/>
<path d="M333.2 784.6L336 781.8M333.2 789.2L340.6 781.8M333.2 793.8L345.2 781.8M336.8 794.8L349.8 781.8M341.4 794.8L354.4 781.8M346 794.8L359 781.8M350.6 794.8L363.6 781.8M355.2 794.8L368.2 781.8M359.8 794.8L372.8 781.8M364.4 794.8L377.4 781.8M369 794.8L379.5 784.3M373.6 794.8L379.5 788.9M378.2 794.8L379.5 793.5" fill="none" stroke="#555" stroke-width="0.9"/>
<rect x="333.2" y="781.8" width="46.3" height="13" fill="none" stroke="#000" stroke-width="1.6"/>
<line x1="562.8" y1="781.8" x2="497.6" y2="781.8" stroke="#000" stroke-width="0.9" stroke-dasharray="5 2.5"/>
<rect x="531.7" y="787" width="29.5" height="3.6" fill="none" stroke="#000" stroke-width="0.8"/>
<rect x="499.2" y="787" width="30.5" height="3.6" fill="none" stroke="#000" stroke-width="0.8"/>
<line x1="562.8" y1="794.8" x2="562.8" y2="799.6" stroke="#000" stroke-width="0.9"/>
<line x1="497.6" y1="794.8" x2="497.6" y2="799.6" stroke="#000" stroke-width="0.9"/>
<line x1="530.7" y1="781.8" x2="530.7" y2="818" stroke="#000" stroke-width="0.9"/>
<line x1="444" y1="781.8" x2="379.5" y2="781.8" stroke="#000" stroke-width="0.9" stroke-dasharray="5 2.5"/>
<rect x="412.6" y="787" width="29.8" height="3.6" fill="none" stroke="#000" stroke-width="0.8"/>
<rect x="381.1" y="787" width="29.5" height="3.6" fill="none" stroke="#000" stroke-width="0.8"/>
<line x1="444" y1="794.8" x2="444" y2="799.6" stroke="#000" stroke-width="0.9"/>
<line x1="379.5" y1="794.8" x2="379.5" y2="799.6" stroke="#000" stroke-width="0.9"/>
<line x1="411.6" y1="781.8" x2="411.6" y2="818" stroke="#000" stroke-width="0.9"/>
<line x1="42" y1="794.8" x2="611.6" y2="794.8" stroke="#000" stroke-width="1.6"/>
<path d="M196.2 572L199.4 568.8M196.2 576.6L201.8 571M196.2 581.2L201.8 575.6M196.2 585.8L201.8 580.2M196.2 590.4L201.8 584.8M196.2 595L201.8 589.4M196.2 599.6L201.8 594M196.2 604.2L201.8 598.6M196.2 608.8L201.8 603.2M196.2 613.4L201.8 607.8M196.2 618L201.8 612.4M196.2 622.6L201.8 617M196.2 627.2L201.8 621.6M196.2 631.8L201.8 626.2M196.2 636.4L201.8 630.8M196.2 641L201.8 635.4M196.2 645.6L201.8 640M196.2 650.2L201.8 644.6M196.2 654.8L201.8 649.2M196.2 659.4L201.8 653.8M196.2 664L201.8 658.4M196.2 668.6L201.8 663M196.2 673.2L201.8 667.6M196.2 677.8L201.8 672.2M196.2 682.4L201.8 676.8M196.2 687L201.8 681.4M196.2 691.6L201.8 686M196.2 696.2L201.8 690.6M196.2 700.8L201.8 695.2M196.2 705.4L201.8 699.8M196.2 710L201.8 704.4M196.2 714.6L201.8 709M196.2 719.2L201.8 713.6M196.2 723.8L201.8 718.2M196.2 728.4L201.8 722.8M196.2 733L201.8 727.4M196.2 737.6L201.8 732M196.2 742.2L201.8 736.6M196.2 746.8L201.8 741.2M196.2 751.4L201.8 745.8M196.2 756L201.8 750.4M196.2 760.6L201.8 755M196.2 765.2L201.8 759.6M196.2 769.8L201.8 764.2M196.2 774.4L201.8 768.8M196.2 779L201.8 773.4M198 781.8L201.8 778" fill="none" stroke="#555" stroke-width="0.9"/>
<line x1="196.2" y1="568.8" x2="196.2" y2="781.8" stroke="#000" stroke-width="1"/>
<line x1="201.8" y1="568.8" x2="201.8" y2="781.8" stroke="#000" stroke-width="1"/>
<path d="M451.8 569.4L452.4 568.8M451.8 574L457 568.8M451.8 578.6L457.4 573M451.8 583.2L457.4 577.6M451.8 587.8L457.4 582.2M451.8 592.4L457.4 586.8M451.8 597L457.4 591.4M451.8 601.6L457.4 596M451.8 606.2L457.4 600.6M451.8 610.8L457.4 605.2M451.8 615.4L457.4 609.8M451.8 620L457.4 614.4M451.8 624.6L457.4 619M451.8 629.2L457.4 623.6M451.8 633.8L457.4 628.2M451.8 638.4L457.4 632.8M451.8 643L457.4 637.4M451.8 647.6L457.4 642M451.8 652.2L457.4 646.6M451.8 656.8L457.4 651.2M451.8 661.4L457.4 655.8M451.8 666L457.4 660.4M451.8 670.6L457.4 665M451.8 675.2L457.4 669.6M451.8 679.8L457.4 674.2M451.8 684.4L457.4 678.8M451.8 689L457.4 683.4M451.8 693.6L457.4 688M451.8 698.2L457.4 692.6M451.8 702.8L457.4 697.2M451.8 707.4L457.4 701.8M451.8 712L457.4 706.4M451.8 716.6L457.4 711M451.8 721.2L457.4 715.6M451.8 725.8L457.4 720.2M451.8 730.4L457.4 724.8M451.8 735L457.4 729.4M451.8 739.6L457.4 734M451.8 744.2L457.4 738.6M451.8 748.8L457.4 743.2M451.8 753.4L457.4 747.8M451.8 758L457.4 752.4M451.8 762.6L457.4 757M451.8 767.2L457.4 761.6M451.8 771.8L457.4 766.2M451.8 776.4L457.4 770.8M451.8 781L457.4 775.4M455.6 781.8L457.4 780" fill="none" stroke="#555" stroke-width="0.9"/>
<line x1="457.4" y1="568.8" x2="457.4" y2="781.8" stroke="#000" stroke-width="1"/>
<line x1="451.8" y1="568.8" x2="451.8" y2="781.8" stroke="#000" stroke-width="1"/>
<path d="M55.8 441L59.8 437M59.4 442L64.4 437M64 442L69 437M68.6 442L73.6 437M73.2 442L78.2 437M77.8 442L82.8 437M82.4 442L87.4 437M87 442L92 437M91.6 442L96.6 437M96.2 442L101.2 437M100.8 442L105.8 437M105.4 442L110.4 437M110 442L115 437M114.6 442L119.6 437M119.2 442L124.2 437M123.8 442L128.8 437M128.4 442L133.4 437M133 442L138 437M137.6 442L142.6 437M142.2 442L147.2 437M146.8 442L151.8 437M151.4 442L156.4 437M156 442L161 437M160.6 442L165.6 437M165.2 442L170.2 437M169.8 442L174.8 437M174.4 442L179.4 437M179 442L184 437M183.6 442L188.6 437M188.2 442L193.2 437M192.8 442L197.8 437M197.4 442L198.6 440.8" fill="none" stroke="#555" stroke-width="0.9"/>
<line x1="55.8" y1="437" x2="193.5" y2="437" stroke="#000" stroke-width="1"/>
<line x1="55.8" y1="442" x2="193.5" y2="442" stroke="#000" stroke-width="1"/>
<path d="M193.5 427.5L196.8 424.2M193.5 432.1L198.6 427M193.5 436.7L198.6 431.6M197.8 437L198.6 436.2" fill="none" stroke="#555" stroke-width="0.9"/>
<path d="M193.5 445.9L197.4 442M193.5 450.5L198.6 445.4M193.5 455.1L198.6 450M193.5 459.7L198.6 454.6M193.5 464.3L198.6 459.2M193.5 468.9L198.6 463.8M193.5 473.5L198.6 468.4M193.5 478.1L198.6 473M193.5 482.7L198.6 477.6M193.5 487.3L198.6 482.2M193.5 491.9L198.6 486.8M193.5 496.5L198.6 491.4M193.5 501.1L198.6 496M193.5 505.7L198.6 500.6M193.5 510.3L198.6 505.2M196.7 511.7L198.6 509.8" fill="none" stroke="#555" stroke-width="0.9"/>
<line x1="193.5" y1="424.2" x2="193.5" y2="437" stroke="#000" stroke-width="1"/>
<line x1="193.5" y1="442" x2="193.5" y2="511.7" stroke="#000" stroke-width="1"/>
<line x1="198.6" y1="424.2" x2="198.6" y2="511.7" stroke="#000" stroke-width="1"/>
<line x1="193.5" y1="424.2" x2="198.6" y2="424.2" stroke="#000" stroke-width="1"/>
<line x1="193.5" y1="511.7" x2="198.6" y2="511.7" stroke="#000" stroke-width="1"/>
<rect x="188.4" y="506.8" width="5.1" height="4.9" fill="none" stroke="#000" stroke-width="0.9"/>
<path d="M138.9 509.7L141.8 506.8M141.5 511.7L146.4 506.8M146.1 511.7L151 506.8M150.7 511.7L151.7 510.7" fill="none" stroke="#555" stroke-width="0.9"/>
<path d="M138.9 514.3L141.5 511.7M138.9 518.9L144.2 513.6M138.9 523.5L144.2 518.2M138.9 528.1L144.2 522.8M138.9 532.7L144.2 527.4M138.9 537.3L144.2 532M138.9 541.9L144.2 536.6M138.9 546.5L144.2 541.2M138.9 551.1L144.2 545.8M139.8 554.8L144.2 550.4" fill="none" stroke="#555" stroke-width="0.9"/>
<polyline points="138.9,554.8 138.9,506.8 151.7,506.8 151.7,511.7 144.2,511.7 144.2,554.8" fill="none" stroke="#000" stroke-width="1"/>
<rect x="151.7" y="506.8" width="2.5" height="4.9" fill="none" stroke="#000" stroke-width="0.8"/>
<path d="M455 437.4L455.4 437M455 442L460 437M459.6 442L464.6 437M464.2 442L469.2 437M468.8 442L473.8 437M473.4 442L478.4 437M478 442L483 437M482.6 442L487.6 437M487.2 442L492.2 437M491.8 442L496.8 437M496.4 442L501.4 437M501 442L506 437M505.6 442L510.6 437M510.2 442L515.2 437M514.8 442L519.8 437M519.4 442L524.4 437M524 442L529 437M528.6 442L533.6 437M533.2 442L538.2 437M537.8 442L542.8 437M542.4 442L547.4 437M547 442L552 437M551.6 442L556.6 437M556.2 442L561.2 437M560.8 442L565.8 437M565.4 442L570.4 437M570 442L575 437M574.6 442L579.6 437M579.2 442L584.2 437M583.8 442L588.8 437M588.4 442L593.4 437M593 442L597.8 437.2" fill="none" stroke="#555" stroke-width="0.9"/>
<line x1="597.8" y1="437" x2="460.1" y2="437" stroke="#000" stroke-width="1"/>
<line x1="597.8" y1="442" x2="460.1" y2="442" stroke="#000" stroke-width="1"/>
<path d="M455 428.2L459 424.2M455 432.8L460.1 427.7M455.4 437L460.1 432.3" fill="none" stroke="#555" stroke-width="0.9"/>
<path d="M455 446.6L459.6 442M455 451.2L460.1 446.1M455 455.8L460.1 450.7M455 460.4L460.1 455.3M455 465L460.1 459.9M455 469.6L460.1 464.5M455 474.2L460.1 469.1M455 478.8L460.1 473.7M455 483.4L460.1 478.3M455 488L460.1 482.9M455 492.6L460.1 487.5M455 497.2L460.1 492.1M455 501.8L460.1 496.7M455 506.4L460.1 501.3M455 511L460.1 505.9M458.9 511.7L460.1 510.5" fill="none" stroke="#555" stroke-width="0.9"/>
<line x1="460.1" y1="424.2" x2="460.1" y2="437" stroke="#000" stroke-width="1"/>
<line x1="460.1" y1="442" x2="460.1" y2="511.7" stroke="#000" stroke-width="1"/>
<line x1="455" y1="424.2" x2="455" y2="511.7" stroke="#000" stroke-width="1"/>
<line x1="460.1" y1="424.2" x2="455" y2="424.2" stroke="#000" stroke-width="1"/>
<line x1="460.1" y1="511.7" x2="455" y2="511.7" stroke="#000" stroke-width="1"/>
<rect x="460.1" y="506.8" width="5.1" height="4.9" fill="none" stroke="#000" stroke-width="0.9"/>
<path d="M501.9 510.1L505.2 506.8M504.9 511.7L509.8 506.8M509.5 511.7L514.4 506.8M514.1 511.7L514.7 511.1" fill="none" stroke="#555" stroke-width="0.9"/>
<path d="M509.4 516.4L514.1 511.7M509.4 521L514.7 515.7M509.4 525.6L514.7 520.3M509.4 530.2L514.7 524.9M509.4 534.8L514.7 529.5M509.4 539.4L514.7 534.1M509.4 544L514.7 538.7M509.4 548.6L514.7 543.3M509.4 553.2L514.7 547.9M512.4 554.8L514.7 552.5" fill="none" stroke="#555" stroke-width="0.9"/>
<polyline points="514.7,554.8 514.7,506.8 501.9,506.8 501.9,511.7 509.4,511.7 509.4,554.8" fill="none" stroke="#000" stroke-width="1"/>
<rect x="499.4" y="506.8" width="2.5" height="4.9" fill="none" stroke="#000" stroke-width="0.8"/>
<rect x="83.7" y="142.4" width="2" height="6.2" fill="none" stroke="#000" stroke-width="0.8"/>
<rect x="221.2" y="142.4" width="2.2" height="6.2" fill="none" stroke="#000" stroke-width="0.8"/>
<line x1="85.7" y1="142.5" x2="147.8" y2="142.5" stroke="#000" stroke-width="1.05"/>
<line x1="85.7" y1="145.7" x2="147.8" y2="145.7" stroke="#000" stroke-width="1.05"/>
<line x1="153.8" y1="145.7" x2="221.2" y2="145.7" stroke="#000" stroke-width="1.05"/>
<line x1="153.8" y1="148.5" x2="221.2" y2="148.5" stroke="#000" stroke-width="1.05"/>
<rect x="147.8" y="142.4" width="6" height="6.2" fill="none" stroke="#000" stroke-width="0.8"/>
<line x1="83.7" y1="153.6" x2="223.4" y2="153.6" stroke="#000" stroke-width="1.05" stroke-dasharray="5 2.5"/>
<rect x="143.3" y="102.5" width="13.4" height="13" fill="none" stroke="#000" stroke-width="1"/>
<line x1="150.1" y1="115.5" x2="150.1" y2="153.6" stroke="#000" stroke-width="1.05"/>
<rect x="567.9" y="142.4" width="2" height="6.2" fill="none" stroke="#000" stroke-width="0.8"/>
<rect x="430.2" y="142.4" width="2.2" height="6.2" fill="none" stroke="#000" stroke-width="0.8"/>
<line x1="567.9" y1="142.5" x2="505.8" y2="142.5" stroke="#000" stroke-width="1.05"/>
<line x1="567.9" y1="145.7" x2="505.8" y2="145.7" stroke="#000" stroke-width="1.05"/>
<line x1="499.8" y1="145.7" x2="432.4" y2="145.7" stroke="#000" stroke-width="1.05"/>
<line x1="499.8" y1="148.5" x2="432.4" y2="148.5" stroke="#000" stroke-width="1.05"/>
<rect x="499.8" y="142.4" width="6" height="6.2" fill="none" stroke="#000" stroke-width="0.8"/>
<line x1="569.9" y1="153.6" x2="430.2" y2="153.6" stroke="#000" stroke-width="1.05" stroke-dasharray="5 2.5"/>
<rect x="496.9" y="102.5" width="13.4" height="13" fill="none" stroke="#000" stroke-width="1"/>
<line x1="503.5" y1="115.5" x2="503.5" y2="153.6" stroke="#000" stroke-width="1.05"/>
<line x1="430.6" y1="142.4" x2="430.6" y2="148.6" stroke="#e07040" stroke-width="1"/>
<circle cx="271.6" cy="85.8" r="46" fill="none" stroke="#000" stroke-width="1.4" stroke-dasharray="6.5 3"/>
<line x1="271.6" y1="85.8" x2="317.6" y2="85.8" stroke="#000" stroke-width="1.25" stroke-dasharray="6.5 3"/>
<line x1="271.6" y1="85.8" x2="314.1" y2="103.4" stroke="#000" stroke-width="1.25" stroke-dasharray="6.5 3"/>
<line x1="271.6" y1="85.8" x2="304.13" y2="118.33" stroke="#000" stroke-width="1.25" stroke-dasharray="6.5 3"/>
<line x1="271.6" y1="85.8" x2="289.2" y2="128.3" stroke="#000" stroke-width="1.25" stroke-dasharray="6.5 3"/>
<line x1="271.6" y1="85.8" x2="271.6" y2="131.8" stroke="#000" stroke-width="1.25" stroke-dasharray="6.5 3"/>
<line x1="271.6" y1="85.8" x2="254" y2="128.3" stroke="#000" stroke-width="1.25" stroke-dasharray="6.5 3"/>
<line x1="271.6" y1="85.8" x2="239.07" y2="118.33" stroke="#000" stroke-width="1.25" stroke-dasharray="6.5 3"/>
<line x1="271.6" y1="85.8" x2="229.1" y2="103.4" stroke="#000" stroke-width="1.25" stroke-dasharray="6.5 3"/>
<line x1="271.6" y1="85.8" x2="225.6" y2="85.8" stroke="#000" stroke-width="1.25" stroke-dasharray="6.5 3"/>
<line x1="271.6" y1="85.8" x2="229.1" y2="68.2" stroke="#000" stroke-width="1.25" stroke-dasharray="6.5 3"/>
<line x1="271.6" y1="85.8" x2="239.07" y2="53.27" stroke="#000" stroke-width="1.25" stroke-dasharray="6.5 3"/>
<line x1="271.6" y1="85.8" x2="254" y2="43.3" stroke="#000" stroke-width="1.25" stroke-dasharray="6.5 3"/>
<line x1="271.6" y1="85.8" x2="271.6" y2="39.8" stroke="#000" stroke-width="1.25" stroke-dasharray="6.5 3"/>
<line x1="271.6" y1="85.8" x2="289.2" y2="43.3" stroke="#000" stroke-width="1.25" stroke-dasharray="6.5 3"/>
<line x1="271.6" y1="85.8" x2="304.13" y2="53.27" stroke="#000" stroke-width="1.25" stroke-dasharray="6.5 3"/>
<line x1="271.6" y1="85.8" x2="314.1" y2="68.2" stroke="#000" stroke-width="1.25" stroke-dasharray="6.5 3"/>
<circle cx="271.6" cy="85.8" r="2.6" fill="#000" stroke="#000" stroke-width="1"/>
<line x1="271.6" y1="17" x2="271.6" y2="39.8" stroke="#000" stroke-width="1.05"/>
<line x1="271.6" y1="85.8" x2="271.6" y2="280" stroke="#000" stroke-width="1.05"/>
<circle cx="382" cy="85.8" r="46" fill="none" stroke="#000" stroke-width="1.4" stroke-dasharray="6.5 3"/>
<line x1="382" y1="85.8" x2="336" y2="85.8" stroke="#000" stroke-width="1.25" stroke-dasharray="6.5 3"/>
<line x1="382" y1="85.8" x2="339.5" y2="103.4" stroke="#000" stroke-width="1.25" stroke-dasharray="6.5 3"/>
<line x1="382" y1="85.8" x2="349.47" y2="118.33" stroke="#000" stroke-width="1.25" stroke-dasharray="6.5 3"/>
<line x1="382" y1="85.8" x2="364.4" y2="128.3" stroke="#000" stroke-width="1.25" stroke-dasharray="6.5 3"/>
<line x1="382" y1="85.8" x2="382" y2="131.8" stroke="#000" stroke-width="1.25" stroke-dasharray="6.5 3"/>
<line x1="382" y1="85.8" x2="399.6" y2="128.3" stroke="#000" stroke-width="1.25" stroke-dasharray="6.5 3"/>
<line x1="382" y1="85.8" x2="414.53" y2="118.33" stroke="#000" stroke-width="1.25" stroke-dasharray="6.5 3"/>
<line x1="382" y1="85.8" x2="424.5" y2="103.4" stroke="#000" stroke-width="1.25" stroke-dasharray="6.5 3"/>
<line x1="382" y1="85.8" x2="428" y2="85.8" stroke="#000" stroke-width="1.25" stroke-dasharray="6.5 3"/>
<line x1="382" y1="85.8" x2="424.5" y2="68.2" stroke="#000" stroke-width="1.25" stroke-dasharray="6.5 3"/>
<line x1="382" y1="85.8" x2="414.53" y2="53.27" stroke="#000" stroke-width="1.25" stroke-dasharray="6.5 3"/>
<line x1="382" y1="85.8" x2="399.6" y2="43.3" stroke="#000" stroke-width="1.25" stroke-dasharray="6.5 3"/>
<line x1="382" y1="85.8" x2="382" y2="39.8" stroke="#000" stroke-width="1.25" stroke-dasharray="6.5 3"/>
<line x1="382" y1="85.8" x2="364.4" y2="43.3" stroke="#000" stroke-width="1.25" stroke-dasharray="6.5 3"/>
<line x1="382" y1="85.8" x2="349.47" y2="53.27" stroke="#000" stroke-width="1.25" stroke-dasharray="6.5 3"/>
<line x1="382" y1="85.8" x2="339.5" y2="68.2" stroke="#000" stroke-width="1.25" stroke-dasharray="6.5 3"/>
<circle cx="382" cy="85.8" r="2.6" fill="#000" stroke="#000" stroke-width="1"/>
<line x1="382" y1="17" x2="382" y2="39.8" stroke="#000" stroke-width="1.05"/>
<line x1="382" y1="85.8" x2="382" y2="280" stroke="#000" stroke-width="1.05"/>
<line x1="180.5" y1="59.5" x2="324.4" y2="101.2" stroke="#000" stroke-width="1.3"/>
<line x1="334" y1="114.8" x2="464" y2="35.3" stroke="#000" stroke-width="1.3"/>
<rect x="57.2" y="175.6" width="5" height="62.7" fill="none" stroke="#555" stroke-width="0.9"/>
<polyline points="108.3,182.2 62.2,207.7 114.1,244.8" fill="none" stroke="#000" stroke-width="1"/>
<rect x="591.4" y="164.6" width="5" height="62.7" fill="none" stroke="#555" stroke-width="0.9"/>
<polyline points="545.3,171.2 591.4,196.7 539.5,233.8" fill="none" stroke="#000" stroke-width="1"/>
<rect x="71.5" y="256.6" width="21.8" height="20.8" fill="none" stroke="#000" stroke-width="1.05"/>
<rect x="100.3" y="256.6" width="22.1" height="20.8" fill="none" stroke="#000" stroke-width="1.05"/>
<polyline points="55.8,268.4 138.7,268.4 138.7,314.3 55.8,314.3" fill="none" stroke="#000" stroke-width="1.05"/>
<rect x="131.6" y="280" width="20.9" height="21.3" fill="none" stroke="#000" stroke-width="1.05"/>
<rect x="99.8" y="306.8" width="20.6" height="21.3" fill="none" stroke="#000" stroke-width="1.05"/>
<rect x="560.3" y="267.6" width="21.8" height="20.8" fill="none" stroke="#000" stroke-width="1.05"/>
<rect x="531.2" y="267.6" width="22.1" height="20.8" fill="none" stroke="#000" stroke-width="1.05"/>
<polyline points="597.8,279.4 514.9,279.4 514.9,325.3 597.8,325.3" fill="none" stroke="#000" stroke-width="1.05"/>
<rect x="501.1" y="291" width="20.9" height="21.3" fill="none" stroke="#000" stroke-width="1.05"/>
<rect x="533.2" y="317.8" width="20.6" height="21.3" fill="none" stroke="#000" stroke-width="1.05"/>
<line x1="55.8" y1="280" x2="225.7" y2="280" stroke="#000" stroke-width="1.05" stroke-dasharray="6 3"/>
<line x1="55.8" y1="293.6" x2="225.7" y2="293.6" stroke="#000" stroke-width="1.05" stroke-dasharray="6 3"/>
<line x1="597.8" y1="280" x2="427.9" y2="280" stroke="#000" stroke-width="1.05" stroke-dasharray="6 3"/>
<line x1="597.8" y1="293.6" x2="427.9" y2="293.6" stroke="#000" stroke-width="1.05" stroke-dasharray="6 3"/>
<polyline points="236.7,153.6 236.7,202.2 312.6,202.2" fill="none" stroke="#000" stroke-width="1.05"/>
<line x1="236.7" y1="161.4" x2="320.4" y2="161.4" stroke="#000" stroke-width="1.05"/>
<line x1="312.6" y1="161.4" x2="312.6" y2="280" stroke="#000" stroke-width="1.05"/>
<polyline points="417.1,153.6 417.1,202.2 333.3,202.2" fill="none" stroke="#000" stroke-width="1.05"/>
<line x1="333.3" y1="161.4" x2="417.1" y2="161.4" stroke="#000" stroke-width="1.05"/>
<rect x="215.9" y="220.8" width="21.8" height="17.5" fill="none" stroke="#000" stroke-width="1.05"/>
<rect x="205.9" y="232.3" width="20.5" height="16.8" fill="none" stroke="#000" stroke-width="1.05"/>
<rect x="411.5" y="220.8" width="20.8" height="17.5" fill="none" stroke="#000" stroke-width="1.05"/>
<rect x="421.5" y="232.3" width="20.6" height="17.3" fill="none" stroke="#000" stroke-width="1.05"/>
<rect x="57.2" y="334.6" width="31.1" height="59" fill="none" stroke="#000" stroke-width="1.05"/>
<line x1="57.2" y1="361.5" x2="88.3" y2="361.5" stroke="#000" stroke-width="1.05"/>
<circle cx="65.7" cy="371" r="4.1" fill="none" stroke="#000" stroke-width="1.9"/>
<circle cx="78.8" cy="371" r="4.1" fill="none" stroke="#000" stroke-width="1.9"/>
<circle cx="65.7" cy="383.8" r="2.5" fill="none" stroke="#000" stroke-width="1.8"/>
<circle cx="78.8" cy="383.8" r="4.2" fill="none" stroke="#000" stroke-width="1.9"/>
<rect x="99.5" y="406.6" width="20.9" height="24.8" fill="none" stroke="#000" stroke-width="1.05"/>
<line x1="128.6" y1="404.1" x2="128.6" y2="437" stroke="#000" stroke-width="1.05"/>
<line x1="160.3" y1="404.1" x2="160.3" y2="437" stroke="#000" stroke-width="1.05"/>
<rect x="565.3" y="334.6" width="31.1" height="59" fill="none" stroke="#000" stroke-width="1.05"/>
<line x1="596.4" y1="361.5" x2="565.3" y2="361.5" stroke="#000" stroke-width="1.05"/>
<circle cx="587.9" cy="371" r="4.1" fill="none" stroke="#000" stroke-width="1.9"/>
<circle cx="574.8" cy="371" r="4.1" fill="none" stroke="#000" stroke-width="1.9"/>
<circle cx="587.9" cy="383.8" r="2.5" fill="none" stroke="#000" stroke-width="1.8"/>
<circle cx="574.8" cy="383.8" r="4.2" fill="none" stroke="#000" stroke-width="1.9"/>
<rect x="533.2" y="406.6" width="20.9" height="24.8" fill="none" stroke="#000" stroke-width="1.05"/>
<line x1="525" y1="404.1" x2="525" y2="437" stroke="#000" stroke-width="1.05"/>
<line x1="493.3" y1="404.1" x2="493.3" y2="437" stroke="#000" stroke-width="1.05"/>
<polyline points="144.48,420.2 144.38,420.39 144.32,420.61 144.31,420.85 144.35,421.12 144.46,421.38 144.63,421.64 144.86,421.86 145.15,422.05 145.49,422.18 145.87,422.25 146.27,422.24 146.69,422.15 147.1,421.98 147.48,421.71 147.83,421.37 148.11,420.95 148.32,420.46 148.44,419.93 148.45,419.36 148.36,418.77 148.15,418.2 147.83,417.65 147.41,417.16 146.88,416.74 146.26,416.42 145.58,416.21 144.85,416.12 144.09,416.18 143.34,416.37 142.61,416.71 141.95,417.18 141.36,417.79 140.88,418.51 140.54,419.32 140.34,420.2 140.3,421.12 140.44,422.06 140.75,422.98 141.23,423.84 141.88,424.62 142.67,425.28 143.58,425.8 144.59,426.15 145.67,426.32 146.79,426.29 147.9,426.05 148.97,425.61 149.96,424.97 150.83,424.15 151.56,423.17 152.1,422.05 152.44,420.83 152.56,419.56 152.44,418.26 152.09,416.98 151.5,415.77 150.7,414.66 149.69,413.71 148.5,412.94 147.18,412.38 145.76,412.07 144.29,412.02 142.81,412.24 141.38,412.72 140.03,413.47 138.83,414.46 137.81,415.66 137.01,417.05 136.46,418.58 136.2,420.2" fill="none" stroke="#000" stroke-width="1.1"/>
<polyline points="508.18,419.8 508.08,419.99 508.02,420.21 508.01,420.45 508.05,420.72 508.16,420.98 508.33,421.24 508.56,421.46 508.85,421.65 509.19,421.78 509.57,421.85 509.97,421.84 510.39,421.75 510.8,421.58 511.18,421.31 511.53,420.97 511.81,420.55 512.02,420.06 512.14,419.53 512.15,418.96 512.06,418.37 511.85,417.8 511.53,417.25 511.11,416.76 510.58,416.34 509.96,416.02 509.28,415.81 508.55,415.72 507.79,415.78 507.04,415.97 506.31,416.31 505.65,416.78 505.06,417.39 504.58,418.11 504.24,418.92 504.04,419.8 504,420.72 504.14,421.66 504.45,422.58 504.93,423.44 505.58,424.22 506.37,424.88 507.28,425.4 508.29,425.75 509.37,425.92 510.49,425.89 511.6,425.65 512.67,425.21 513.66,424.57 514.53,423.75 515.26,422.77 515.8,421.65 516.14,420.43 516.26,419.16 516.14,417.86 515.79,416.58 515.2,415.37 514.4,414.26 513.39,413.31 512.2,412.54 510.88,411.98 509.46,411.67 507.99,411.62 506.51,411.84 505.08,412.32 503.73,413.07 502.53,414.06 501.51,415.26 500.71,416.65 500.16,418.18 499.9,419.8" fill="none" stroke="#000" stroke-width="1.1"/>
<polyline points="122.94,539 122.85,539.17 122.79,539.38 122.78,539.61 122.82,539.86 122.92,540.1 123.08,540.34 123.3,540.55 123.57,540.73 123.88,540.85 124.24,540.92 124.62,540.91 125,540.83 125.39,540.66 125.75,540.42 126.07,540.09 126.33,539.7 126.53,539.25 126.64,538.74 126.65,538.21 126.57,537.67 126.37,537.13 126.08,536.62 125.67,536.16 125.18,535.77 124.61,535.47 123.97,535.27 123.28,535.19 122.58,535.24 121.87,535.42 121.2,535.73 120.57,536.18 120.02,536.74 119.58,537.42 119.25,538.18 119.07,539 119.04,539.86 119.16,540.74 119.45,541.6 119.9,542.4 120.51,543.13 121.24,543.75 122.1,544.23 123.05,544.56 124.06,544.72 125.1,544.69 126.14,544.47 127.14,544.05 128.06,543.46 128.88,542.69 129.56,541.77 130.06,540.73 130.38,539.59 130.49,538.4 130.38,537.18 130.05,535.99 129.51,534.85 128.75,533.82 127.81,532.93 126.7,532.21 125.47,531.69 124.14,531.4 122.76,531.35 121.38,531.56 120.04,532.01 118.78,532.71 117.66,533.63 116.7,534.76 115.96,536.06 115.45,537.48 115.2,539" fill="none" stroke="#000" stroke-width="1.1"/>
<polyline points="530.54,539 530.45,539.17 530.39,539.38 530.38,539.61 530.42,539.86 530.52,540.1 530.68,540.34 530.9,540.55 531.17,540.73 531.48,540.85 531.84,540.92 532.22,540.91 532.6,540.83 532.99,540.66 533.35,540.42 533.67,540.09 533.93,539.7 534.13,539.25 534.24,538.74 534.25,538.21 534.17,537.67 533.97,537.13 533.68,536.62 533.27,536.16 532.78,535.77 532.21,535.47 531.57,535.27 530.88,535.19 530.18,535.24 529.47,535.42 528.8,535.73 528.17,536.18 527.62,536.74 527.18,537.42 526.85,538.18 526.67,539 526.64,539.86 526.76,540.74 527.05,541.6 527.5,542.4 528.11,543.13 528.84,543.75 529.7,544.23 530.65,544.56 531.66,544.72 532.7,544.69 533.74,544.47 534.74,544.05 535.66,543.46 536.48,542.69 537.16,541.77 537.66,540.73 537.98,539.59 538.09,538.4 537.98,537.18 537.65,535.99 537.11,534.85 536.35,533.82 535.41,532.93 534.3,532.21 533.07,531.69 531.74,531.4 530.36,531.35 528.98,531.56 527.64,532.01 526.38,532.71 525.26,533.63 524.3,534.76 523.56,536.06 523.05,537.48 522.8,539" fill="none" stroke="#000" stroke-width="1.1"/>
<line x1="63.9" y1="442" x2="63.9" y2="470.7" stroke="#000" stroke-width="1.05"/>
<line x1="55.8" y1="470.7" x2="63.9" y2="470.7" stroke="#000" stroke-width="1.05"/>
<line x1="55.8" y1="474.3" x2="66.8" y2="474.3" stroke="#000" stroke-width="1.05"/>
<line x1="66.8" y1="442" x2="66.8" y2="505.9" stroke="#000" stroke-width="1.05"/>
<path d="M66.9 465.3H85.2A9.5 9.45 0 0 1 85.2 484.2H66.9Z" fill="none" stroke="#000" stroke-width="1"/>
<path d="M71.3 467.6V481.9H85.2A7.2 7.15 0 0 0 85.2 467.6Z" fill="none" stroke="#000" stroke-width="1"/>
<rect x="126.4" y="442" width="43.4" height="27.2" fill="none" stroke="#000" stroke-width="1.05"/>
<ellipse cx="148.7" cy="454.2" rx="11.6" ry="9" fill="none" stroke="#000" stroke-width="1"/>
<ellipse cx="148.7" cy="454.6" rx="9.6" ry="7" fill="none" stroke="#000" stroke-width="0.9"/>
<line x1="148.7" y1="446.5" x2="148.7" y2="453.5" stroke="#000" stroke-width="1"/>
<line x1="146.9" y1="450" x2="150.5" y2="450" stroke="#000" stroke-width="1"/>
<circle cx="148.7" cy="452.6" r="1" fill="#000" stroke="#000" stroke-width="0.8"/>
<path d="M56.8 507.3H76.8A28.2 28.2 0 0 1 105 535.5V553.4" fill="none" stroke="#000" stroke-width="1.2"/>
<path d="M56.8 509H76.8A26.5 26.5 0 0 1 103.3 535.5V553.4" fill="none" stroke="#000" stroke-width="0.9"/>
<line x1="56.8" y1="506.8" x2="56.8" y2="553.9" stroke="#000" stroke-width="2.4"/>
<line x1="56.3" y1="553.2" x2="105.5" y2="553.2" stroke="#000" stroke-width="2.4"/>
<circle cx="87.9" cy="523.5" r="1.1" fill="none" stroke="#000" stroke-width="0.8"/>
<rect x="107.6" y="523.5" width="31.3" height="29.9" fill="none" stroke="#000" stroke-width="1.05"/>
<path d="M152.8 506.8 A35.6 35.6 0 0 1 188.4 471.2" fill="none" stroke="#000" stroke-width="1"/>
<line x1="188.4" y1="471.2" x2="188.4" y2="506.8" stroke="#000" stroke-width="1"/>
<line x1="151.7" y1="506.9" x2="193.5" y2="506.9" stroke="#000" stroke-width="1.05"/>
<circle cx="170.8" cy="490" r="5.3" fill="#fff" stroke="#000" stroke-width="1"/>
<line x1="170.8" y1="495.3" x2="170.8" y2="520.6" stroke="#000" stroke-width="1.05"/>
<line x1="587.3" y1="442" x2="587.3" y2="505.2" stroke="#000" stroke-width="1.05"/>
<polyline points="587.3,452.5 597.8,452.5" fill="none" stroke="#000" stroke-width="1.05"/>
<polyline points="592.2,442 592.2,449.4 597.8,449.4" fill="none" stroke="#000" stroke-width="1.05"/>
<path d="M586.7 465.3H568.4A9.5 9.45 0 0 0 568.4 484.2H586.7Z" fill="none" stroke="#000" stroke-width="1"/>
<path d="M582.3 467.6V481.9H568.4A7.2 7.15 0 0 1 568.4 467.6Z" fill="none" stroke="#000" stroke-width="1"/>
<rect x="483.8" y="442" width="43.4" height="27.2" fill="none" stroke="#000" stroke-width="1.05"/>
<ellipse cx="504.9" cy="454.2" rx="11.6" ry="9" fill="none" stroke="#000" stroke-width="1"/>
<ellipse cx="504.9" cy="454.6" rx="9.6" ry="7" fill="none" stroke="#000" stroke-width="0.9"/>
<line x1="504.9" y1="446.5" x2="504.9" y2="453.5" stroke="#000" stroke-width="1"/>
<line x1="506.7" y1="450" x2="503.1" y2="450" stroke="#000" stroke-width="1"/>
<circle cx="504.9" cy="452.6" r="1" fill="#000" stroke="#000" stroke-width="0.8"/>
<path d="M596.8 507.3H576.8A28.2 28.2 0 0 0 548.6 535.5V553.4" fill="none" stroke="#000" stroke-width="1.2"/>
<path d="M596.8 509H576.8A26.5 26.5 0 0 0 550.3 535.5V553.4" fill="none" stroke="#000" stroke-width="0.9"/>
<line x1="596.8" y1="506.8" x2="596.8" y2="553.9" stroke="#000" stroke-width="2.4"/>
<line x1="597.3" y1="553.2" x2="548.1" y2="553.2" stroke="#000" stroke-width="2.4"/>
<circle cx="565.7" cy="523.5" r="1.1" fill="none" stroke="#000" stroke-width="0.8"/>
<rect x="514.7" y="523.5" width="31.3" height="29.9" fill="none" stroke="#000" stroke-width="1.05"/>
<path d="M500.8 506.8 A35.6 35.6 0 0 0 465.2 471.2" fill="none" stroke="#000" stroke-width="1"/>
<line x1="465.2" y1="471.2" x2="465.2" y2="506.8" stroke="#000" stroke-width="1"/>
<line x1="501.9" y1="506.9" x2="460.1" y2="506.9" stroke="#000" stroke-width="1.05"/>
<circle cx="482.8" cy="490" r="5.3" fill="#fff" stroke="#000" stroke-width="1"/>
<line x1="482.8" y1="495.3" x2="482.8" y2="520.6" stroke="#000" stroke-width="1.05"/>
<path d="M188.3 597.4 A37.4 37.4 0 0 1 150.9 560" fill="none" stroke="#000" stroke-width="1.1"/>
<line x1="188.3" y1="554.8" x2="188.3" y2="597.4" stroke="#000" stroke-width="1.1"/>
<line x1="190.4" y1="554.8" x2="190.4" y2="560" stroke="#000" stroke-width="0.9"/>
<line x1="150.9" y1="560" x2="188.3" y2="560" stroke="#000" stroke-width="1.05"/>
<line x1="148.5" y1="554.8" x2="148.5" y2="560" stroke="#000" stroke-width="0.9"/>
<line x1="150.7" y1="554.8" x2="150.7" y2="560" stroke="#000" stroke-width="0.9"/>
<path d="M244.9 560 A37.4 37.4 0 0 1 207.5 597.4" fill="none" stroke="#000" stroke-width="1.1"/>
<line x1="207.5" y1="554.8" x2="207.5" y2="597.4" stroke="#000" stroke-width="1.1"/>
<line x1="205.4" y1="554.8" x2="205.4" y2="560" stroke="#000" stroke-width="0.9"/>
<line x1="207.5" y1="560" x2="244.9" y2="560" stroke="#000" stroke-width="1.05"/>
<line x1="245.2" y1="554.8" x2="245.2" y2="560" stroke="#000" stroke-width="0.9"/>
<circle cx="169.7" cy="577.6" r="5.6" fill="#fff" stroke="#000" stroke-width="1.1"/>
<line x1="169.7" y1="546.4" x2="169.7" y2="572" stroke="#000" stroke-width="1.05"/>
<circle cx="226.3" cy="577.8" r="5.6" fill="#fff" stroke="#000" stroke-width="1.1"/>
<line x1="226.3" y1="546.4" x2="226.3" y2="572.2" stroke="#000" stroke-width="1.05"/>
<path d="M465.3 597.4 A37.4 37.4 0 0 0 502.7 560" fill="none" stroke="#000" stroke-width="1.1"/>
<line x1="465.3" y1="554.8" x2="465.3" y2="597.4" stroke="#000" stroke-width="1.1"/>
<line x1="463.2" y1="554.8" x2="463.2" y2="560" stroke="#000" stroke-width="0.9"/>
<line x1="502.7" y1="560" x2="465.3" y2="560" stroke="#000" stroke-width="1.05"/>
<line x1="505.1" y1="554.8" x2="505.1" y2="560" stroke="#000" stroke-width="0.9"/>
<line x1="502.9" y1="554.8" x2="502.9" y2="560" stroke="#000" stroke-width="0.9"/>
<path d="M408.7 560 A37.4 37.4 0 0 0 446.1 597.4" fill="none" stroke="#000" stroke-width="1.1"/>
<line x1="446.1" y1="554.8" x2="446.1" y2="597.4" stroke="#000" stroke-width="1.1"/>
<line x1="448.2" y1="554.8" x2="448.2" y2="560" stroke="#000" stroke-width="0.9"/>
<line x1="446.1" y1="560" x2="408.7" y2="560" stroke="#000" stroke-width="1.05"/>
<line x1="408.4" y1="554.8" x2="408.4" y2="560" stroke="#000" stroke-width="0.9"/>
<circle cx="483.9" cy="577.6" r="5.6" fill="#fff" stroke="#000" stroke-width="1.1"/>
<line x1="483.9" y1="546.4" x2="483.9" y2="572" stroke="#000" stroke-width="1.05"/>
<circle cx="427.3" cy="577.8" r="5.6" fill="#fff" stroke="#000" stroke-width="1.1"/>
<line x1="427.3" y1="546.4" x2="427.3" y2="572.2" stroke="#000" stroke-width="1.05"/>
<path d="M250.4 352.2 A48.4 48.4 0 0 1 202 303.8" fill="none" stroke="#000" stroke-width="1"/>
<line x1="202" y1="303.4" x2="250.7" y2="303.4" stroke="#000" stroke-width="1"/>
<line x1="250.7" y1="302.3" x2="250.7" y2="353.3" stroke="#000" stroke-width="1"/>
<circle cx="232.2" cy="331.4" r="5.3" fill="#fff" stroke="#000" stroke-width="1"/>
<line x1="237.5" y1="331.4" x2="261" y2="331.4" stroke="#000" stroke-width="1.05"/>
<path d="M403.2 352.2 A48.4 48.4 0 0 0 451.6 303.8" fill="none" stroke="#000" stroke-width="1"/>
<line x1="451.6" y1="303.4" x2="402.9" y2="303.4" stroke="#000" stroke-width="1"/>
<line x1="402.9" y1="302.3" x2="402.9" y2="353.3" stroke="#000" stroke-width="1"/>
<circle cx="421.4" cy="331.4" r="5.3" fill="#fff" stroke="#000" stroke-width="1"/>
<line x1="416.1" y1="331.4" x2="392.6" y2="331.4" stroke="#000" stroke-width="1.05"/>
<line x1="262.7" y1="295.9" x2="390.9" y2="295.9" stroke="#000" stroke-width="1.5"/>
<line x1="262.7" y1="295.9" x2="262.7" y2="553.2" stroke="#000" stroke-width="1.2"/>
<line x1="390.9" y1="295.9" x2="390.9" y2="553.2" stroke="#000" stroke-width="1.2"/>
<line x1="262.7" y1="553.2" x2="390.9" y2="553.2" stroke="#000" stroke-width="1.2"/>
<line x1="262.7" y1="365.7" x2="323.9" y2="365.7" stroke="#000" stroke-width="1.05"/>
<line x1="368.2" y1="365.7" x2="390.9" y2="365.7" stroke="#000" stroke-width="1.05"/>
<line x1="262.7" y1="381.05" x2="323.9" y2="381.05" stroke="#000" stroke-width="1.05"/>
<line x1="331.6" y1="381.05" x2="390.9" y2="381.05" stroke="#000" stroke-width="1.05"/>
<line x1="262.7" y1="396.4" x2="323.9" y2="396.4" stroke="#000" stroke-width="1.05"/>
<line x1="331.6" y1="396.4" x2="390.9" y2="396.4" stroke="#000" stroke-width="1.05"/>
<line x1="262.7" y1="411.75" x2="323.9" y2="411.75" stroke="#000" stroke-width="1.05"/>
<line x1="331.6" y1="411.75" x2="390.9" y2="411.75" stroke="#000" stroke-width="1.05"/>
<line x1="262.7" y1="427.1" x2="323.9" y2="427.1" stroke="#000" stroke-width="1.05"/>
<line x1="331.6" y1="427.1" x2="390.9" y2="427.1" stroke="#000" stroke-width="1.05"/>
<line x1="262.7" y1="442.45" x2="323.9" y2="442.45" stroke="#000" stroke-width="1.05"/>
<line x1="331.6" y1="442.45" x2="390.9" y2="442.45" stroke="#000" stroke-width="1.05"/>
<line x1="262.7" y1="457.8" x2="323.9" y2="457.8" stroke="#000" stroke-width="1.05"/>
<line x1="331.6" y1="457.8" x2="390.9" y2="457.8" stroke="#000" stroke-width="1.05"/>
<line x1="262.7" y1="473.15" x2="323.9" y2="473.15" stroke="#000" stroke-width="1.05"/>
<line x1="331.6" y1="473.15" x2="390.9" y2="473.15" stroke="#000" stroke-width="1.05"/>
<line x1="262.7" y1="488.5" x2="323.9" y2="488.5" stroke="#000" stroke-width="1.05"/>
<line x1="331.6" y1="488.5" x2="390.9" y2="488.5" stroke="#000" stroke-width="1.05"/>
<line x1="262.7" y1="364.2" x2="323.9" y2="364.2" stroke="#000" stroke-width="1.05"/>
<line x1="368.2" y1="364.2" x2="390.9" y2="364.2" stroke="#000" stroke-width="1.05"/>
<line x1="323.9" y1="364.2" x2="323.9" y2="490.2" stroke="#000" stroke-width="1.05"/>
<line x1="327.4" y1="364.2" x2="327.4" y2="490.2" stroke="#000" stroke-width="1.05"/>
<line x1="331.6" y1="364.2" x2="331.6" y2="490.2" stroke="#000" stroke-width="1.05"/>
<line x1="323.9" y1="490.2" x2="331.6" y2="490.2" stroke="#000" stroke-width="1.05"/>
<line x1="323.9" y1="488" x2="331.6" y2="488" stroke="#000" stroke-width="1.05"/>
<polyline points="293.5,366.3 293.5,520.2 359.6,520.2" fill="none" stroke="#000" stroke-width="1.05"/>
<rect x="287.9" y="284.3" width="80.3" height="85.1" fill="none" stroke="#000" stroke-width="1" stroke-dasharray="5 2.5"/>
<line x1="331.6" y1="381.3" x2="343.8" y2="369.4" stroke="#000" stroke-width="1.05"/>
<line x1="368.2" y1="369.4" x2="389.8" y2="381.3" stroke="#000" stroke-width="1.05"/>
<polygon points="285.1,330.6 272.2,337.7 285.1,344.8" fill="none" stroke="#f2a654" stroke-width="1.1"/>
<polygon points="366.4,330.6 379.3,337.7 366.4,344.8" fill="none" stroke="#f2a654" stroke-width="1.1"/>
<text transform="translate(300 343.6) rotate(0) scale(1 1)" font-size="16" text-anchor="middle" fill="#f2a654" font-weight="normal">S5</text>
<text transform="translate(352.3 343.6) rotate(0) scale(1 1)" font-size="16" text-anchor="middle" fill="#f2a654" font-weight="normal">S6</text>
<line x1="359.6" y1="296" x2="359.6" y2="553.2" stroke="#000" stroke-width="1.05"/>
<line x1="0" y1="233.4" x2="659" y2="233.4" stroke="#000" stroke-width="2" stroke-dasharray="27 3.3 2 3.3" stroke-dashoffset="2"/>
<line x1="343.8" y1="0" x2="343.8" y2="818" stroke="#000" stroke-width="2" stroke-dasharray="28 3.2 2 3.1" stroke-dashoffset="15.7"/>
<line x1="55.8" y1="601.2" x2="142.5" y2="601.2" stroke="#000" stroke-width="1.05"/>
<line x1="142.5" y1="568.8" x2="142.5" y2="601.2" stroke="#000" stroke-width="1.05"/>
<line x1="55.8" y1="584.9" x2="141.5" y2="584.9" stroke="#666" stroke-width="1.1"/>
<polyline points="59.9,595.4 63.7,574.1 67.5,595.4" fill="none" stroke="#222" stroke-width="0.9"/>
<polyline points="61.5,595.4 63.7,575.1 65.9,595.4" fill="none" stroke="#333" stroke-width="0.8"/>
<polyline points="69,574.1 72.8,595.4 76.6,574.1" fill="none" stroke="#222" stroke-width="0.9"/>
<polyline points="70.7,574.1 72.8,594.4 74.9,574.1" fill="none" stroke="#333" stroke-width="0.8"/>
<line x1="78.3" y1="574.1" x2="78.3" y2="595.4" stroke="#222" stroke-width="0.9"/>
<line x1="80.6" y1="574.1" x2="80.6" y2="595.4" stroke="#222" stroke-width="0.9"/>
<polyline points="87.9,595.4 91.7,574.1 95.5,595.4" fill="none" stroke="#222" stroke-width="0.9"/>
<polyline points="89.5,595.4 91.7,575.1 93.9,595.4" fill="none" stroke="#333" stroke-width="0.8"/>
<polyline points="97,574.1 100.8,595.4 104.6,574.1" fill="none" stroke="#222" stroke-width="0.9"/>
<polyline points="98.7,574.1 100.8,594.4 102.9,574.1" fill="none" stroke="#333" stroke-width="0.8"/>
<line x1="106.3" y1="574.1" x2="106.3" y2="595.4" stroke="#222" stroke-width="0.9"/>
<line x1="108.6" y1="574.1" x2="108.6" y2="595.4" stroke="#222" stroke-width="0.9"/>
<polyline points="115,595.4 118.8,574.1 122.6,595.4" fill="none" stroke="#222" stroke-width="0.9"/>
<polyline points="116.6,595.4 118.8,575.1 121,595.4" fill="none" stroke="#333" stroke-width="0.8"/>
<polyline points="124.1,574.1 127.9,595.4 131.7,574.1" fill="none" stroke="#222" stroke-width="0.9"/>
<polyline points="125.8,574.1 127.9,594.4 130,574.1" fill="none" stroke="#333" stroke-width="0.8"/>
<line x1="133.4" y1="574.1" x2="133.4" y2="595.4" stroke="#222" stroke-width="0.9"/>
<line x1="135.7" y1="574.1" x2="135.7" y2="595.4" stroke="#222" stroke-width="0.9"/>
<rect x="57" y="613.8" width="20.7" height="20.6" fill="none" stroke="#000" stroke-width="1.05"/>
<rect x="57" y="729.1" width="20.7" height="21.3" fill="none" stroke="#000" stroke-width="1.05"/>
<rect x="55.8" y="638" width="108.4" height="87.1" fill="none" stroke="#000" stroke-width="1.05"/>
<rect x="59.4" y="649.4" width="19.1" height="28.8" fill="none" stroke="#000" stroke-width="1.05" rx="2.2"/>
<rect x="59.4" y="685.7" width="19.1" height="28.9" fill="none" stroke="#000" stroke-width="1.05" rx="2.2"/>
<polygon points="78.5,638.6 119.1,705.8 100.3,725.1" fill="none" stroke="#000" stroke-width="1.05"/>
<polyline points="267.3,568.8 267.3,676.1 320.4,676.1" fill="none" stroke="#000" stroke-width="1.05"/>
<line x1="287.3" y1="676.1" x2="287.3" y2="781.8" stroke="#000" stroke-width="1.05"/>
<line x1="304.3" y1="676.1" x2="304.3" y2="781.8" stroke="#444" stroke-width="1.05"/>
<line x1="267.3" y1="622.5" x2="320.4" y2="590.6" stroke="#000" stroke-width="1.05"/>
<rect x="280.5" y="573.2" width="28.2" height="17.6" fill="none" stroke="#000" stroke-width="1.05" rx="2.5"/>
<line x1="293.4" y1="703.7" x2="315.2" y2="703.7" stroke="#222" stroke-width="0.9"/>
<line x1="293.4" y1="706" x2="315.2" y2="706" stroke="#222" stroke-width="0.9"/>
<polyline points="293.4,708.2 315.2,712 293.4,715.8" fill="none" stroke="#222" stroke-width="0.9"/>
<polyline points="293.4,709.9 314.2,712 293.4,714.1" fill="none" stroke="#333" stroke-width="0.8"/>
<polyline points="315.2,717.1 293.4,720.5 315.2,723.9" fill="none" stroke="#222" stroke-width="0.9"/>
<polyline points="315.2,718.8 294.4,720.5 315.2,722.2" fill="none" stroke="#333" stroke-width="0.8"/>
<line x1="293.4" y1="730.8" x2="315.2" y2="730.8" stroke="#222" stroke-width="0.9"/>
<line x1="293.4" y1="733.1" x2="315.2" y2="733.1" stroke="#222" stroke-width="0.9"/>
<polyline points="293.4,735.3 315.2,739.1 293.4,742.9" fill="none" stroke="#222" stroke-width="0.9"/>
<polyline points="293.4,737 314.2,739.1 293.4,741.2" fill="none" stroke="#333" stroke-width="0.8"/>
<polyline points="315.2,744.2 293.4,747.6 315.2,751" fill="none" stroke="#222" stroke-width="0.9"/>
<polyline points="315.2,745.9 294.4,747.6 315.2,749.3" fill="none" stroke="#333" stroke-width="0.8"/>
<line x1="293.4" y1="757.6" x2="315.2" y2="757.6" stroke="#222" stroke-width="0.9"/>
<line x1="293.4" y1="759.9" x2="315.2" y2="759.9" stroke="#222" stroke-width="0.9"/>
<polyline points="293.4,762.1 315.2,765.9 293.4,769.7" fill="none" stroke="#222" stroke-width="0.9"/>
<polyline points="293.4,763.8 314.2,765.9 293.4,768" fill="none" stroke="#333" stroke-width="0.8"/>
<polyline points="315.2,771 293.4,774.4 315.2,777.8" fill="none" stroke="#222" stroke-width="0.9"/>
<polyline points="315.2,772.7 294.4,774.4 315.2,776.1" fill="none" stroke="#333" stroke-width="0.8"/>
<line x1="597.8" y1="601.2" x2="511.1" y2="601.2" stroke="#000" stroke-width="1.05"/>
<line x1="511.1" y1="568.8" x2="511.1" y2="601.2" stroke="#000" stroke-width="1.05"/>
<line x1="597.8" y1="584.9" x2="512.1" y2="584.9" stroke="#666" stroke-width="1.1"/>
<polyline points="593.7,595.4 589.9,574.1 586.1,595.4" fill="none" stroke="#222" stroke-width="0.9"/>
<polyline points="592.1,595.4 589.9,575.1 587.7,595.4" fill="none" stroke="#333" stroke-width="0.8"/>
<polyline points="584.6,574.1 580.8,595.4 577,574.1" fill="none" stroke="#222" stroke-width="0.9"/>
<polyline points="582.9,574.1 580.8,594.4 578.7,574.1" fill="none" stroke="#333" stroke-width="0.8"/>
<line x1="575.3" y1="574.1" x2="575.3" y2="595.4" stroke="#222" stroke-width="0.9"/>
<line x1="573" y1="574.1" x2="573" y2="595.4" stroke="#222" stroke-width="0.9"/>
<polyline points="565.7,595.4 561.9,574.1 558.1,595.4" fill="none" stroke="#222" stroke-width="0.9"/>
<polyline points="564.1,595.4 561.9,575.1 559.7,595.4" fill="none" stroke="#333" stroke-width="0.8"/>
<polyline points="556.6,574.1 552.8,595.4 549,574.1" fill="none" stroke="#222" stroke-width="0.9"/>
<polyline points="554.9,574.1 552.8,594.4 550.7,574.1" fill="none" stroke="#333" stroke-width="0.8"/>
<line x1="547.3" y1="574.1" x2="547.3" y2="595.4" stroke="#222" stroke-width="0.9"/>
<line x1="545" y1="574.1" x2="545" y2="595.4" stroke="#222" stroke-width="0.9"/>
<polyline points="538.6,595.4 534.8,574.1 531,595.4" fill="none" stroke="#222" stroke-width="0.9"/>
<polyline points="537,595.4 534.8,575.1 532.6,595.4" fill="none" stroke="#333" stroke-width="0.8"/>
<polyline points="529.5,574.1 525.7,595.4 521.9,574.1" fill="none" stroke="#222" stroke-width="0.9"/>
<polyline points="527.8,574.1 525.7,594.4 523.6,574.1" fill="none" stroke="#333" stroke-width="0.8"/>
<line x1="520.2" y1="574.1" x2="520.2" y2="595.4" stroke="#222" stroke-width="0.9"/>
<line x1="517.9" y1="574.1" x2="517.9" y2="595.4" stroke="#222" stroke-width="0.9"/>
<rect x="575.9" y="613.8" width="20.7" height="20.6" fill="none" stroke="#000" stroke-width="1.05"/>
<rect x="575.9" y="729.1" width="20.7" height="21.3" fill="none" stroke="#000" stroke-width="1.05"/>
<rect x="489.4" y="638" width="108.4" height="87.1" fill="none" stroke="#000" stroke-width="1.05"/>
<rect x="575.1" y="649.4" width="19.1" height="28.8" fill="none" stroke="#000" stroke-width="1.05" rx="2.2"/>
<rect x="575.1" y="685.7" width="19.1" height="28.9" fill="none" stroke="#000" stroke-width="1.05" rx="2.2"/>
<polygon points="575.1,638.6 534.5,705.8 553.3,725.1" fill="none" stroke="#000" stroke-width="1.05"/>
<polyline points="386.3,568.8 386.3,676.1 333.2,676.1" fill="none" stroke="#000" stroke-width="1.05"/>
<line x1="366.3" y1="676.1" x2="366.3" y2="781.8" stroke="#000" stroke-width="1.05"/>
<line x1="349.3" y1="676.1" x2="349.3" y2="781.8" stroke="#444" stroke-width="1.05"/>
<line x1="386.3" y1="622.5" x2="333.2" y2="590.6" stroke="#000" stroke-width="1.05"/>
<rect x="344.9" y="573.2" width="28.2" height="17.6" fill="none" stroke="#000" stroke-width="1.05" rx="2.5"/>
<line x1="360.2" y1="703.7" x2="338.4" y2="703.7" stroke="#222" stroke-width="0.9"/>
<line x1="360.2" y1="706" x2="338.4" y2="706" stroke="#222" stroke-width="0.9"/>
<polyline points="360.2,708.2 338.4,712 360.2,715.8" fill="none" stroke="#222" stroke-width="0.9"/>
<polyline points="360.2,709.9 339.4,712 360.2,714.1" fill="none" stroke="#333" stroke-width="0.8"/>
<polyline points="338.4,717.1 360.2,720.5 338.4,723.9" fill="none" stroke="#222" stroke-width="0.9"/>
<polyline points="338.4,718.8 359.2,720.5 338.4,722.2" fill="none" stroke="#333" stroke-width="0.8"/>
<line x1="360.2" y1="730.8" x2="338.4" y2="730.8" stroke="#222" stroke-width="0.9"/>
<line x1="360.2" y1="733.1" x2="338.4" y2="733.1" stroke="#222" stroke-width="0.9"/>
<polyline points="360.2,735.3 338.4,739.1 360.2,742.9" fill="none" stroke="#222" stroke-width="0.9"/>
<polyline points="360.2,737 339.4,739.1 360.2,741.2" fill="none" stroke="#333" stroke-width="0.8"/>
<polyline points="338.4,744.2 360.2,747.6 338.4,751" fill="none" stroke="#222" stroke-width="0.9"/>
<polyline points="338.4,745.9 359.2,747.6 338.4,749.3" fill="none" stroke="#333" stroke-width="0.8"/>
<line x1="360.2" y1="757.6" x2="338.4" y2="757.6" stroke="#222" stroke-width="0.9"/>
<line x1="360.2" y1="759.9" x2="338.4" y2="759.9" stroke="#222" stroke-width="0.9"/>
<polyline points="360.2,762.1 338.4,765.9 360.2,769.7" fill="none" stroke="#222" stroke-width="0.9"/>
<polyline points="360.2,763.8 339.4,765.9 360.2,768" fill="none" stroke="#333" stroke-width="0.8"/>
<polyline points="338.4,771 360.2,774.4 338.4,777.8" fill="none" stroke="#222" stroke-width="0.9"/>
<polyline points="338.4,772.7 359.2,774.4 338.4,776.1" fill="none" stroke="#333" stroke-width="0.8"/>
<rect x="597.8" y="468.5" width="18.8" height="33.1" fill="#fff" stroke="#000" stroke-width="1"/>
<rect x="599.2" y="469.6" width="7.3" height="30.9" fill="none" stroke="#000" stroke-width="0.9"/>
<line x1="601.4" y1="469.6" x2="601.4" y2="500.5" stroke="#000" stroke-width="0.8"/>
<line x1="603.9" y1="469.6" x2="603.9" y2="500.5" stroke="#000" stroke-width="0.8"/>
<line x1="606.5" y1="468.5" x2="606.5" y2="501.6" stroke="#000" stroke-width="0.9"/>
<line x1="597.8" y1="485.4" x2="636.2" y2="485.4" stroke="#000" stroke-width="1.05"/>
<rect x="636.2" y="478.2" width="13.5" height="13.3" fill="none" stroke="#000" stroke-width="1.1"/>
<line x1="33" y1="83.2" x2="333.3" y2="83.2" stroke="#000" stroke-width="1.05"/>
<line x1="333.3" y1="81.4" x2="627" y2="81.4" stroke="#000" stroke-width="1.05"/>
<line x1="428" y1="86.2" x2="612" y2="86.2" stroke="#000" stroke-width="1.05"/>
<path d="M39.07 87.57L45.33 78.83" stroke="#000" stroke-width="1.3" fill="none"/>
<path d="M42.2 78.6L42.2 87.8" stroke="#000" stroke-width="0.8" fill="none"/>
<path d="M52.17 87.57L58.43 78.83" stroke="#000" stroke-width="1.3" fill="none"/>
<path d="M55.3 78.6L55.3 87.8" stroke="#000" stroke-width="0.8" fill="none"/>
<path d="M223.47 87.57L229.73 78.83" stroke="#000" stroke-width="1.3" fill="none"/>
<path d="M226.6 78.6L226.6 87.8" stroke="#000" stroke-width="0.8" fill="none"/>
<path d="M314.47 87.57L320.73 78.83" stroke="#000" stroke-width="1.3" fill="none"/>
<path d="M317.6 78.6L317.6 87.8" stroke="#000" stroke-width="0.8" fill="none"/>
<path d="M317.27 87.57L323.53 78.83" stroke="#000" stroke-width="1.3" fill="none"/>
<path d="M320.4 78.6L320.4 87.8" stroke="#000" stroke-width="0.8" fill="none"/>
<path d="M330.17 87.57L336.43 78.83" stroke="#000" stroke-width="1.3" fill="none"/>
<path d="M333.3 78.6L333.3 87.8" stroke="#000" stroke-width="0.8" fill="none"/>
<path d="M595.37 85.77L601.63 77.03" stroke="#000" stroke-width="1.3" fill="none"/>
<path d="M598.5 76.8L598.5 86" stroke="#000" stroke-width="0.8" fill="none"/>
<path d="M613.37 85.77L619.63 77.03" stroke="#000" stroke-width="1.3" fill="none"/>
<path d="M616.5 76.8L616.5 86" stroke="#000" stroke-width="0.8" fill="none"/>
<path d="M424.87 90.57L431.13 81.83" stroke="#000" stroke-width="1.3" fill="none"/>
<path d="M428 81.6L428 90.8" stroke="#000" stroke-width="0.8" fill="none"/>
<path d="M608.77 90.57L615.03 81.83" stroke="#000" stroke-width="1.3" fill="none"/>
<path d="M611.9 81.6L611.9 90.8" stroke="#000" stroke-width="0.8" fill="none"/>
<line x1="310" y1="81.4" x2="336" y2="81.4" stroke="#000" stroke-width="0.8"/>
<text transform="translate(49 75.87) rotate(0) scale(0.8 1)" font-size="15" text-anchor="middle" fill="#000" font-weight="normal" stroke="#000" stroke-width="0.18">25</text>
<text transform="translate(134 77.37) rotate(0) scale(0.8 1)" font-size="15" text-anchor="middle" fill="#000" font-weight="normal" stroke="#000" stroke-width="0.18">340</text>
<text transform="translate(299.7 78.57) rotate(0) scale(0.8 1)" font-size="15" text-anchor="middle" fill="#000" font-weight="normal" stroke="#000" stroke-width="0.18">102,5</text>
<text transform="translate(327.2 75.87) rotate(0) scale(0.8 1)" font-size="15" text-anchor="middle" fill="#000" font-weight="normal" stroke="#000" stroke-width="0.18">25</text>
<text transform="translate(466.5 75.37) rotate(0) scale(0.8 1)" font-size="15" text-anchor="middle" fill="#000" font-weight="normal" stroke="#000" stroke-width="0.18">490</text>
<text transform="translate(520.7 80.37) rotate(0) scale(0.8 1)" font-size="15" text-anchor="middle" fill="#000" font-weight="normal" stroke="#000" stroke-width="0.18">340</text>
<text transform="translate(609.4 74.87) rotate(0) scale(0.8 1)" font-size="15" text-anchor="middle" fill="#000" font-weight="normal" stroke="#000" stroke-width="0.18">250</text>
<path d="M268.47 30.77L274.73 22.03" stroke="#000" stroke-width="1.3" fill="none"/>
<path d="M267 26.4L276.2 26.4" stroke="#000" stroke-width="0.8" fill="none"/>
<path d="M268.47 44.17L274.73 35.43" stroke="#000" stroke-width="1.3" fill="none"/>
<path d="M267 39.8L276.2 39.8" stroke="#000" stroke-width="0.8" fill="none"/>
<path d="M268.47 136.17L274.73 127.43" stroke="#000" stroke-width="1.3" fill="none"/>
<path d="M267 131.8L276.2 131.8" stroke="#000" stroke-width="0.8" fill="none"/>
<path d="M268.47 144.17L274.73 135.43" stroke="#000" stroke-width="1.3" fill="none"/>
<path d="M267 139.8L276.2 139.8" stroke="#000" stroke-width="0.8" fill="none"/>
<text transform="translate(266.67 33.2) rotate(-90) scale(0.8 1)" font-size="15" text-anchor="middle" fill="#000" font-weight="normal" stroke="#000" stroke-width="0.3">25</text>
<text transform="translate(265.97 112.8) rotate(-90) scale(0.8 1)" font-size="15" text-anchor="middle" fill="#000" font-weight="normal" stroke="#000" stroke-width="0.3">100</text>
<path d="M378.87 30.77L385.13 22.03" stroke="#000" stroke-width="1.3" fill="none"/>
<path d="M377.4 26.4L386.6 26.4" stroke="#000" stroke-width="0.8" fill="none"/>
<path d="M378.87 44.17L385.13 35.43" stroke="#000" stroke-width="1.3" fill="none"/>
<path d="M377.4 39.8L386.6 39.8" stroke="#000" stroke-width="0.8" fill="none"/>
<path d="M378.87 136.17L385.13 127.43" stroke="#000" stroke-width="1.3" fill="none"/>
<path d="M377.4 131.8L386.6 131.8" stroke="#000" stroke-width="0.8" fill="none"/>
<path d="M378.87 144.17L385.13 135.43" stroke="#000" stroke-width="1.3" fill="none"/>
<path d="M377.4 139.8L386.6 139.8" stroke="#000" stroke-width="0.8" fill="none"/>
<text transform="translate(377.07 33.2) rotate(-90) scale(0.8 1)" font-size="15" text-anchor="middle" fill="#000" font-weight="normal" stroke="#000" stroke-width="0.3">25</text>
<text transform="translate(376.37 112.8) rotate(-90) scale(0.8 1)" font-size="15" text-anchor="middle" fill="#000" font-weight="normal" stroke="#000" stroke-width="0.3">100</text>
<line x1="226.17" y1="69.39" x2="230.03" y2="76.41" stroke="#000" stroke-width="1.1"/>
<line x1="229.22" y1="69.06" x2="226.98" y2="76.74" stroke="#000" stroke-width="0.8"/>
<line x1="313.97" y1="95.19" x2="317.83" y2="102.21" stroke="#000" stroke-width="1.1"/>
<line x1="317.02" y1="94.86" x2="314.78" y2="102.54" stroke="#000" stroke-width="0.8"/>
<line x1="417.41" y1="60.46" x2="425.19" y2="62.34" stroke="#000" stroke-width="1.1"/>
<line x1="419.22" y1="57.99" x2="423.38" y2="64.81" stroke="#000" stroke-width="0.8"/>
<line x1="339.51" y1="108.06" x2="347.29" y2="109.94" stroke="#000" stroke-width="1.1"/>
<line x1="341.32" y1="105.59" x2="345.48" y2="112.41" stroke="#000" stroke-width="0.8"/>
<text transform="translate(186 56.5) rotate(16.2) scale(0.85 1)" font-size="15" text-anchor="start" fill="#000" font-weight="normal">ø170</text>
<text transform="translate(428 52) rotate(-31.4) scale(0.85 1)" font-size="15" text-anchor="start" fill="#000" font-weight="normal">ø170</text>
<line x1="51.4" y1="170.1" x2="291.6" y2="170.1" stroke="#000" stroke-width="1.05"/>
<line x1="362.6" y1="170.1" x2="440.3" y2="170.1" stroke="#000" stroke-width="1.05"/>
<line x1="565.5" y1="170.1" x2="604.3" y2="170.1" stroke="#000" stroke-width="1.05"/>
<path d="M52.67 174.47L58.93 165.73" stroke="#000" stroke-width="1.3" fill="none"/>
<path d="M55.8 165.5L55.8 174.7" stroke="#000" stroke-width="0.8" fill="none"/>
<path d="M80.37 174.47L86.63 165.73" stroke="#000" stroke-width="1.3" fill="none"/>
<path d="M83.5 165.5L83.5 174.7" stroke="#000" stroke-width="0.8" fill="none"/>
<path d="M219.47 174.47L225.73 165.73" stroke="#000" stroke-width="1.3" fill="none"/>
<path d="M222.6 165.5L222.6 174.7" stroke="#000" stroke-width="0.8" fill="none"/>
<path d="M233.47 174.47L239.73 165.73" stroke="#000" stroke-width="1.3" fill="none"/>
<path d="M236.6 165.5L236.6 174.7" stroke="#000" stroke-width="0.8" fill="none"/>
<path d="M270.17 174.47L276.43 165.73" stroke="#000" stroke-width="1.3" fill="none"/>
<path d="M273.3 165.5L273.3 174.7" stroke="#000" stroke-width="0.8" fill="none"/>
<path d="M284.77 174.47L291.03 165.73" stroke="#000" stroke-width="1.3" fill="none"/>
<path d="M287.9 165.5L287.9 174.7" stroke="#000" stroke-width="0.8" fill="none"/>
<path d="M363.27 174.47L369.53 165.73" stroke="#000" stroke-width="1.3" fill="none"/>
<path d="M366.4 165.5L366.4 174.7" stroke="#000" stroke-width="0.8" fill="none"/>
<path d="M377.07 174.47L383.33 165.73" stroke="#000" stroke-width="1.3" fill="none"/>
<path d="M380.2 165.5L380.2 174.7" stroke="#000" stroke-width="0.8" fill="none"/>
<path d="M414.17 174.47L420.43 165.73" stroke="#000" stroke-width="1.3" fill="none"/>
<path d="M417.3 165.5L417.3 174.7" stroke="#000" stroke-width="0.8" fill="none"/>
<path d="M427.47 174.47L433.73 165.73" stroke="#000" stroke-width="1.3" fill="none"/>
<path d="M430.6 165.5L430.6 174.7" stroke="#000" stroke-width="0.8" fill="none"/>
<path d="M567.17 174.47L573.43 165.73" stroke="#000" stroke-width="1.3" fill="none"/>
<path d="M570.3 165.5L570.3 174.7" stroke="#000" stroke-width="0.8" fill="none"/>
<path d="M594.67 174.47L600.93 165.73" stroke="#000" stroke-width="1.3" fill="none"/>
<path d="M597.8 165.5L597.8 174.7" stroke="#000" stroke-width="0.8" fill="none"/>
<text transform="translate(69 165.17) rotate(0) scale(0.8 1)" font-size="15" text-anchor="middle" fill="#000" font-weight="normal" stroke="#000" stroke-width="0.18">50</text>
<text transform="translate(153.5 165.17) rotate(0) scale(0.8 1)" font-size="15" text-anchor="middle" fill="#000" font-weight="normal" stroke="#000" stroke-width="0.18">260</text>
<text transform="translate(230.2 165.17) rotate(0) scale(0.8 1)" font-size="15" text-anchor="middle" fill="#000" font-weight="normal" stroke="#000" stroke-width="0.18">25</text>
<text transform="translate(255.5 165.17) rotate(0) scale(0.8 1)" font-size="15" text-anchor="middle" fill="#000" font-weight="normal" stroke="#000" stroke-width="0.18">70</text>
<text transform="translate(280.5 165.17) rotate(0) scale(0.8 1)" font-size="15" text-anchor="middle" fill="#000" font-weight="normal" stroke="#000" stroke-width="0.18">25</text>
<text transform="translate(327 165.17) rotate(0) scale(0.8 1)" font-size="15" text-anchor="middle" fill="#000" font-weight="normal" stroke="#000" stroke-width="0.18">145</text>
<text transform="translate(399 165.17) rotate(0) scale(0.8 1)" font-size="15" text-anchor="middle" fill="#000" font-weight="normal" stroke="#000" stroke-width="0.18">70</text>
<text transform="translate(424 165.17) rotate(0) scale(0.8 1)" font-size="15" text-anchor="middle" fill="#000" font-weight="normal" stroke="#000" stroke-width="0.18">25</text>
<text transform="translate(584.3 165.17) rotate(0) scale(0.8 1)" font-size="15" text-anchor="middle" fill="#000" font-weight="normal" stroke="#000" stroke-width="0.18">50</text>
<line x1="51.4" y1="252.9" x2="602.2" y2="252.9" stroke="#000" stroke-width="1.05"/>
<path d="M52.67 257.27L58.93 248.53" stroke="#000" stroke-width="1.3" fill="none"/>
<path d="M55.8 248.3L55.8 257.5" stroke="#000" stroke-width="0.8" fill="none"/>
<path d="M223.27 257.27L229.53 248.53" stroke="#000" stroke-width="1.3" fill="none"/>
<path d="M226.4 248.3L226.4 257.5" stroke="#000" stroke-width="0.8" fill="none"/>
<path d="M284.77 257.27L291.03 248.53" stroke="#000" stroke-width="1.3" fill="none"/>
<path d="M287.9 248.3L287.9 257.5" stroke="#000" stroke-width="0.8" fill="none"/>
<path d="M317.27 257.27L323.53 248.53" stroke="#000" stroke-width="1.3" fill="none"/>
<path d="M320.4 248.3L320.4 257.5" stroke="#000" stroke-width="0.8" fill="none"/>
<path d="M330.17 257.27L336.43 248.53" stroke="#000" stroke-width="1.3" fill="none"/>
<path d="M333.3 248.3L333.3 257.5" stroke="#000" stroke-width="0.8" fill="none"/>
<path d="M362.57 257.27L368.83 248.53" stroke="#000" stroke-width="1.3" fill="none"/>
<path d="M365.7 248.3L365.7 257.5" stroke="#000" stroke-width="0.8" fill="none"/>
<path d="M424.27 257.27L430.53 248.53" stroke="#000" stroke-width="1.3" fill="none"/>
<path d="M427.4 248.3L427.4 257.5" stroke="#000" stroke-width="0.8" fill="none"/>
<path d="M594.67 257.27L600.93 248.53" stroke="#000" stroke-width="1.3" fill="none"/>
<path d="M597.8 248.3L597.8 257.5" stroke="#000" stroke-width="0.8" fill="none"/>
<text transform="translate(140.4 247.67) rotate(0) scale(0.8 1)" font-size="15" text-anchor="middle" fill="#000" font-weight="normal" stroke="#000" stroke-width="0.18">315</text>
<text transform="translate(257.3 247.67) rotate(0) scale(0.8 1)" font-size="15" text-anchor="middle" fill="#000" font-weight="normal" stroke="#000" stroke-width="0.18">115</text>
<text transform="translate(304.2 247.67) rotate(0) scale(0.8 1)" font-size="15" text-anchor="middle" fill="#000" font-weight="normal" stroke="#000" stroke-width="0.18">60</text>
<text transform="translate(327 247.67) rotate(0) scale(0.8 1)" font-size="15" text-anchor="middle" fill="#000" font-weight="normal" stroke="#000" stroke-width="0.18">25</text>
<text transform="translate(350 247.67) rotate(0) scale(0.8 1)" font-size="15" text-anchor="middle" fill="#000" font-weight="normal" stroke="#000" stroke-width="0.18">60</text>
<text transform="translate(397.2 247.67) rotate(0) scale(0.8 1)" font-size="15" text-anchor="middle" fill="#000" font-weight="normal" stroke="#000" stroke-width="0.18">115</text>
<text transform="translate(513.5 247.67) rotate(0) scale(0.8 1)" font-size="15" text-anchor="middle" fill="#000" font-weight="normal" stroke="#000" stroke-width="0.18">315</text>
<line x1="202.1" y1="150" x2="202.1" y2="404.1" stroke="#000" stroke-width="1.05"/>
<path d="M198.97 157.97L205.23 149.23" stroke="#000" stroke-width="1.3" fill="none"/>
<path d="M197.5 153.6L206.7 153.6" stroke="#000" stroke-width="0.8" fill="none"/>
<path d="M198.97 284.37L205.23 275.63" stroke="#000" stroke-width="1.3" fill="none"/>
<path d="M197.5 280L206.7 280" stroke="#000" stroke-width="0.8" fill="none"/>
<path d="M198.97 298.67L205.23 289.93" stroke="#000" stroke-width="1.3" fill="none"/>
<path d="M197.5 294.3L206.7 294.3" stroke="#000" stroke-width="0.8" fill="none"/>
<path d="M198.97 306.07L205.23 297.33" stroke="#000" stroke-width="1.3" fill="none"/>
<path d="M197.5 301.7L206.7 301.7" stroke="#000" stroke-width="0.8" fill="none"/>
<path d="M198.97 359.87L205.23 351.13" stroke="#000" stroke-width="1.3" fill="none"/>
<path d="M197.5 355.5L206.7 355.5" stroke="#000" stroke-width="0.8" fill="none"/>
<path d="M198.97 408.47L205.23 399.73" stroke="#000" stroke-width="1.3" fill="none"/>
<path d="M197.5 404.1L206.7 404.1" stroke="#000" stroke-width="0.8" fill="none"/>
<text transform="translate(195.37 216.5) rotate(-90) scale(0.8 1)" font-size="15" text-anchor="middle" fill="#000" font-weight="normal" stroke="#000" stroke-width="0.18">235</text>
<text transform="translate(195.37 292) rotate(-90) scale(0.72 1)" font-size="15" text-anchor="middle" fill="#000" font-weight="normal" stroke="#000" stroke-width="0.18">1525</text>
<text transform="translate(195.37 328) rotate(-90) scale(0.8 1)" font-size="15" text-anchor="middle" fill="#000" font-weight="normal" stroke="#000" stroke-width="0.18">100</text>
<text transform="translate(195.37 377.5) rotate(-90) scale(0.8 1)" font-size="15" text-anchor="middle" fill="#000" font-weight="normal" stroke="#000" stroke-width="0.18">90</text>
<line x1="479.2" y1="150" x2="479.2" y2="404.1" stroke="#000" stroke-width="1.05"/>
<path d="M476.07 157.97L482.33 149.23" stroke="#000" stroke-width="1.3" fill="none"/>
<path d="M474.6 153.6L483.8 153.6" stroke="#000" stroke-width="0.8" fill="none"/>
<path d="M476.07 284.37L482.33 275.63" stroke="#000" stroke-width="1.3" fill="none"/>
<path d="M474.6 280L483.8 280" stroke="#000" stroke-width="0.8" fill="none"/>
<path d="M476.07 298.67L482.33 289.93" stroke="#000" stroke-width="1.3" fill="none"/>
<path d="M474.6 294.3L483.8 294.3" stroke="#000" stroke-width="0.8" fill="none"/>
<path d="M476.07 306.07L482.33 297.33" stroke="#000" stroke-width="1.3" fill="none"/>
<path d="M474.6 301.7L483.8 301.7" stroke="#000" stroke-width="0.8" fill="none"/>
<path d="M476.07 359.87L482.33 351.13" stroke="#000" stroke-width="1.3" fill="none"/>
<path d="M474.6 355.5L483.8 355.5" stroke="#000" stroke-width="0.8" fill="none"/>
<path d="M476.07 408.47L482.33 399.73" stroke="#000" stroke-width="1.3" fill="none"/>
<path d="M474.6 404.1L483.8 404.1" stroke="#000" stroke-width="0.8" fill="none"/>
<text transform="translate(472.87 216.5) rotate(-90) scale(0.8 1)" font-size="15" text-anchor="middle" fill="#000" font-weight="normal" stroke="#000" stroke-width="0.18">235</text>
<text transform="translate(472.87 292) rotate(-90) scale(0.72 1)" font-size="15" text-anchor="middle" fill="#000" font-weight="normal" stroke="#000" stroke-width="0.18">1525</text>
<text transform="translate(472.87 328) rotate(-90) scale(0.8 1)" font-size="15" text-anchor="middle" fill="#000" font-weight="normal" stroke="#000" stroke-width="0.18">100</text>
<text transform="translate(472.87 377.5) rotate(-90) scale(0.8 1)" font-size="15" text-anchor="middle" fill="#000" font-weight="normal" stroke="#000" stroke-width="0.18">90</text>
<line x1="89.8" y1="404.1" x2="202.1" y2="404.1" stroke="#000" stroke-width="1.05"/>
<line x1="563.8" y1="404.1" x2="479.2" y2="404.1" stroke="#000" stroke-width="1.05"/>
<line x1="51.4" y1="424.2" x2="251.5" y2="424.2" stroke="#000" stroke-width="1.05"/>
<path d="M52.67 428.57L58.93 419.83" stroke="#000" stroke-width="1.3" fill="none"/>
<path d="M55.8 419.6L55.8 428.8" stroke="#000" stroke-width="0.8" fill="none"/>
<path d="M190.37 428.57L196.63 419.83" stroke="#000" stroke-width="1.3" fill="none"/>
<path d="M193.5 419.6L193.5 428.8" stroke="#000" stroke-width="0.8" fill="none"/>
<path d="M195.47 428.57L201.73 419.83" stroke="#000" stroke-width="1.3" fill="none"/>
<path d="M198.6 419.6L198.6 428.8" stroke="#000" stroke-width="0.8" fill="none"/>
<path d="M244.27 428.57L250.53 419.83" stroke="#000" stroke-width="1.3" fill="none"/>
<path d="M247.4 419.6L247.4 428.8" stroke="#000" stroke-width="0.8" fill="none"/>
<line x1="173.8" y1="420.5" x2="180.2" y2="420.5" stroke="#000" stroke-width="1"/>
<line x1="175.4" y1="417.73" x2="178.6" y2="423.27" stroke="#000" stroke-width="1"/>
<line x1="178.6" y1="417.73" x2="175.4" y2="423.27" stroke="#000" stroke-width="1"/>
<line x1="114.8" y1="400" x2="114.8" y2="560" stroke="#000" stroke-width="1.05"/>
<path d="M111.67 408.47L117.93 399.73" stroke="#000" stroke-width="1.3" fill="none"/>
<path d="M110.2 404.1L119.4 404.1" stroke="#000" stroke-width="0.8" fill="none"/>
<path d="M111.67 441.37L117.93 432.63" stroke="#000" stroke-width="1.3" fill="none"/>
<path d="M110.2 437L119.4 437" stroke="#000" stroke-width="0.8" fill="none"/>
<path d="M111.67 446.37L117.93 437.63" stroke="#000" stroke-width="1.3" fill="none"/>
<path d="M110.2 442L119.4 442" stroke="#000" stroke-width="0.8" fill="none"/>
<path d="M111.67 494.47L117.93 485.73" stroke="#000" stroke-width="1.3" fill="none"/>
<path d="M110.2 490.1L119.4 490.1" stroke="#000" stroke-width="0.8" fill="none"/>
<path d="M111.67 509.87L117.93 501.13" stroke="#000" stroke-width="1.3" fill="none"/>
<path d="M110.2 505.5L119.4 505.5" stroke="#000" stroke-width="0.8" fill="none"/>
<path d="M111.67 515.07L117.93 506.33" stroke="#000" stroke-width="1.3" fill="none"/>
<path d="M110.2 510.7L119.4 510.7" stroke="#000" stroke-width="0.8" fill="none"/>
<path d="M111.67 557.17L117.93 548.43" stroke="#000" stroke-width="1.3" fill="none"/>
<path d="M110.2 552.8L119.4 552.8" stroke="#000" stroke-width="0.8" fill="none"/>
<line x1="106.4" y1="436.4" x2="115.6" y2="423.4" stroke="#000" stroke-width="2.4"/>
<line x1="602.2" y1="424.2" x2="402.1" y2="424.2" stroke="#000" stroke-width="1.05"/>
<path d="M594.67 428.57L600.93 419.83" stroke="#000" stroke-width="1.3" fill="none"/>
<path d="M597.8 419.6L597.8 428.8" stroke="#000" stroke-width="0.8" fill="none"/>
<path d="M456.97 428.57L463.23 419.83" stroke="#000" stroke-width="1.3" fill="none"/>
<path d="M460.1 419.6L460.1 428.8" stroke="#000" stroke-width="0.8" fill="none"/>
<path d="M451.87 428.57L458.13 419.83" stroke="#000" stroke-width="1.3" fill="none"/>
<path d="M455 419.6L455 428.8" stroke="#000" stroke-width="0.8" fill="none"/>
<path d="M403.07 428.57L409.33 419.83" stroke="#000" stroke-width="1.3" fill="none"/>
<path d="M406.2 419.6L406.2 428.8" stroke="#000" stroke-width="0.8" fill="none"/>
<line x1="473.4" y1="420.5" x2="479.8" y2="420.5" stroke="#000" stroke-width="1"/>
<line x1="475" y1="417.73" x2="478.2" y2="423.27" stroke="#000" stroke-width="1"/>
<line x1="478.2" y1="417.73" x2="475" y2="423.27" stroke="#000" stroke-width="1"/>
<line x1="538.8" y1="400" x2="538.8" y2="560" stroke="#000" stroke-width="1.05"/>
<path d="M535.67 408.47L541.93 399.73" stroke="#000" stroke-width="1.3" fill="none"/>
<path d="M534.2 404.1L543.4 404.1" stroke="#000" stroke-width="0.8" fill="none"/>
<path d="M535.67 441.37L541.93 432.63" stroke="#000" stroke-width="1.3" fill="none"/>
<path d="M534.2 437L543.4 437" stroke="#000" stroke-width="0.8" fill="none"/>
<path d="M535.67 446.37L541.93 437.63" stroke="#000" stroke-width="1.3" fill="none"/>
<path d="M534.2 442L543.4 442" stroke="#000" stroke-width="0.8" fill="none"/>
<path d="M535.67 494.47L541.93 485.73" stroke="#000" stroke-width="1.3" fill="none"/>
<path d="M534.2 490.1L543.4 490.1" stroke="#000" stroke-width="0.8" fill="none"/>
<path d="M535.67 509.87L541.93 501.13" stroke="#000" stroke-width="1.3" fill="none"/>
<path d="M534.2 505.5L543.4 505.5" stroke="#000" stroke-width="0.8" fill="none"/>
<path d="M535.67 515.07L541.93 506.33" stroke="#000" stroke-width="1.3" fill="none"/>
<path d="M534.2 510.7L543.4 510.7" stroke="#000" stroke-width="0.8" fill="none"/>
<path d="M535.67 557.17L541.93 548.43" stroke="#000" stroke-width="1.3" fill="none"/>
<path d="M534.2 552.8L543.4 552.8" stroke="#000" stroke-width="0.8" fill="none"/>
<line x1="547.2" y1="436.4" x2="538" y2="423.4" stroke="#000" stroke-width="2.4"/>
<text transform="translate(125.4 417.67) rotate(0) scale(0.8 1)" font-size="15" text-anchor="middle" fill="#000" font-weight="normal" stroke="#000" stroke-width="0.18">255</text>
<text transform="translate(530.4 417.67) rotate(0) scale(0.8 1)" font-size="15" text-anchor="middle" fill="#000" font-weight="normal" stroke="#000" stroke-width="0.18">255</text>
<text transform="translate(196.3 416.97) rotate(0) scale(0.8 1)" font-size="15" text-anchor="middle" fill="#000" font-weight="normal" stroke="#000" stroke-width="0.18">10</text>
<text transform="translate(224 416.97) rotate(0) scale(0.8 1)" font-size="15" text-anchor="middle" fill="#000" font-weight="normal" stroke="#000" stroke-width="0.18">90</text>
<text transform="translate(430.3 416.97) rotate(0) scale(0.8 1)" font-size="15" text-anchor="middle" fill="#000" font-weight="normal" stroke="#000" stroke-width="0.18">90</text>
<text transform="translate(458.4 416.97) rotate(0) scale(0.8 1)" font-size="15" text-anchor="middle" fill="#000" font-weight="normal" stroke="#000" stroke-width="0.18">10</text>
<text transform="translate(109.87 421) rotate(-90) scale(0.7 1)" font-size="15" text-anchor="middle" fill="#000" font-weight="normal" stroke="#000" stroke-width="0.18">60</text>
<text transform="translate(109.87 439.5) rotate(-90) scale(0.7 1)" font-size="15" text-anchor="middle" fill="#000" font-weight="normal" stroke="#000" stroke-width="0.18">10</text>
<text transform="translate(109.87 475) rotate(-90) scale(0.8 1)" font-size="15" text-anchor="middle" fill="#000" font-weight="normal" stroke="#000" stroke-width="0.18">120</text>
<text transform="translate(109.87 508.8) rotate(-90) scale(0.8 1)" font-size="15" text-anchor="middle" fill="#000" font-weight="normal" stroke="#000" stroke-width="0.18">10</text>
<text transform="translate(109.87 534) rotate(-90) scale(0.7 1)" font-size="15" text-anchor="middle" fill="#000" font-weight="normal" stroke="#000" stroke-width="0.18">80</text>
<text transform="translate(109.87 561.5) rotate(-90) scale(0.8 1)" font-size="15" text-anchor="middle" fill="#000" font-weight="normal" stroke="#000" stroke-width="0.18">25</text>
<text transform="translate(534.87 421) rotate(-90) scale(0.7 1)" font-size="15" text-anchor="middle" fill="#000" font-weight="normal" stroke="#000" stroke-width="0.18">60</text>
<text transform="translate(534.87 439.5) rotate(-90) scale(0.7 1)" font-size="15" text-anchor="middle" fill="#000" font-weight="normal" stroke="#000" stroke-width="0.18">10</text>
<text transform="translate(534.87 475) rotate(-90) scale(0.8 1)" font-size="15" text-anchor="middle" fill="#000" font-weight="normal" stroke="#000" stroke-width="0.18">120</text>
<text transform="translate(534.87 508.8) rotate(-90) scale(0.8 1)" font-size="15" text-anchor="middle" fill="#000" font-weight="normal" stroke="#000" stroke-width="0.18">10</text>
<text transform="translate(534.87 534) rotate(-90) scale(0.7 1)" font-size="15" text-anchor="middle" fill="#000" font-weight="normal" stroke="#000" stroke-width="0.18">80</text>
<text transform="translate(534.87 561.5) rotate(-90) scale(0.8 1)" font-size="15" text-anchor="middle" fill="#000" font-weight="normal" stroke="#000" stroke-width="0.18">25</text>
<line x1="51" y1="490.1" x2="251.5" y2="490.1" stroke="#000" stroke-width="1.05"/>
<path d="M52.67 494.47L58.93 485.73" stroke="#000" stroke-width="1.3" fill="none"/>
<path d="M55.8 485.5L55.8 494.7" stroke="#000" stroke-width="0.8" fill="none"/>
<path d="M137.67 494.47L143.93 485.73" stroke="#000" stroke-width="1.3" fill="none"/>
<path d="M140.8 485.5L140.8 494.7" stroke="#000" stroke-width="0.8" fill="none"/>
<path d="M141.67 494.47L147.93 485.73" stroke="#000" stroke-width="1.3" fill="none"/>
<path d="M144.8 485.5L144.8 494.7" stroke="#000" stroke-width="0.8" fill="none"/>
<path d="M146.57 494.47L152.83 485.73" stroke="#000" stroke-width="1.3" fill="none"/>
<path d="M149.7 485.5L149.7 494.7" stroke="#000" stroke-width="0.8" fill="none"/>
<path d="M187.07 494.47L193.33 485.73" stroke="#000" stroke-width="1.3" fill="none"/>
<path d="M190.2 485.5L190.2 494.7" stroke="#000" stroke-width="0.8" fill="none"/>
<path d="M190.37 494.47L196.63 485.73" stroke="#000" stroke-width="1.3" fill="none"/>
<path d="M193.5 485.5L193.5 494.7" stroke="#000" stroke-width="0.8" fill="none"/>
<path d="M195.47 494.47L201.73 485.73" stroke="#000" stroke-width="1.3" fill="none"/>
<path d="M198.6 485.5L198.6 494.7" stroke="#000" stroke-width="0.8" fill="none"/>
<path d="M244.27 494.47L250.53 485.73" stroke="#000" stroke-width="1.3" fill="none"/>
<path d="M247.4 485.5L247.4 494.7" stroke="#000" stroke-width="0.8" fill="none"/>
<line x1="602.6" y1="490.1" x2="402.1" y2="490.1" stroke="#000" stroke-width="1.05"/>
<path d="M594.67 494.47L600.93 485.73" stroke="#000" stroke-width="1.3" fill="none"/>
<path d="M597.8 485.5L597.8 494.7" stroke="#000" stroke-width="0.8" fill="none"/>
<path d="M509.67 494.47L515.93 485.73" stroke="#000" stroke-width="1.3" fill="none"/>
<path d="M512.8 485.5L512.8 494.7" stroke="#000" stroke-width="0.8" fill="none"/>
<path d="M505.67 494.47L511.93 485.73" stroke="#000" stroke-width="1.3" fill="none"/>
<path d="M508.8 485.5L508.8 494.7" stroke="#000" stroke-width="0.8" fill="none"/>
<path d="M500.77 494.47L507.03 485.73" stroke="#000" stroke-width="1.3" fill="none"/>
<path d="M503.9 485.5L503.9 494.7" stroke="#000" stroke-width="0.8" fill="none"/>
<path d="M460.27 494.47L466.53 485.73" stroke="#000" stroke-width="1.3" fill="none"/>
<path d="M463.4 485.5L463.4 494.7" stroke="#000" stroke-width="0.8" fill="none"/>
<path d="M456.97 494.47L463.23 485.73" stroke="#000" stroke-width="1.3" fill="none"/>
<path d="M460.1 485.5L460.1 494.7" stroke="#000" stroke-width="0.8" fill="none"/>
<path d="M451.87 494.47L458.13 485.73" stroke="#000" stroke-width="1.3" fill="none"/>
<path d="M455 485.5L455 494.7" stroke="#000" stroke-width="0.8" fill="none"/>
<path d="M403.07 494.47L409.33 485.73" stroke="#000" stroke-width="1.3" fill="none"/>
<path d="M406.2 485.5L406.2 494.7" stroke="#000" stroke-width="0.8" fill="none"/>
<text transform="translate(98 484.37) rotate(0) scale(0.8 1)" font-size="15" text-anchor="middle" fill="#000" font-weight="normal" stroke="#000" stroke-width="0.18">155</text>
<text transform="translate(145.3 484.37) rotate(0) scale(0.8 1)" font-size="15" text-anchor="middle" fill="#000" font-weight="normal" stroke="#000" stroke-width="0.18">100</text>
<text transform="translate(170.5 484.37) rotate(0) scale(0.8 1)" font-size="15" text-anchor="middle" fill="#000" font-weight="normal" stroke="#000" stroke-width="0.18">75</text>
<text transform="translate(195 484.37) rotate(0) scale(0.8 1)" font-size="15" text-anchor="middle" fill="#000" font-weight="normal" stroke="#000" stroke-width="0.18">50</text>
<text transform="translate(222.2 484.37) rotate(0) scale(0.8 1)" font-size="15" text-anchor="middle" fill="#000" font-weight="normal" stroke="#000" stroke-width="0.18">90</text>
<text transform="translate(431.5 484.37) rotate(0) scale(0.8 1)" font-size="15" text-anchor="middle" fill="#000" font-weight="normal" stroke="#000" stroke-width="0.18">90</text>
<text transform="translate(458.5 484.37) rotate(0) scale(0.8 1)" font-size="15" text-anchor="middle" fill="#000" font-weight="normal" stroke="#000" stroke-width="0.18">105</text>
<text transform="translate(484 484.37) rotate(0) scale(0.8 1)" font-size="15" text-anchor="middle" fill="#000" font-weight="normal" stroke="#000" stroke-width="0.18">75</text>
<text transform="translate(509 484.37) rotate(0) scale(0.8 1)" font-size="15" text-anchor="middle" fill="#000" font-weight="normal" stroke="#000" stroke-width="0.18">100</text>
<text transform="translate(556.7 484.37) rotate(0) scale(0.8 1)" font-size="15" text-anchor="middle" fill="#000" font-weight="normal" stroke="#000" stroke-width="0.18">155</text>
<line x1="258" y1="507.4" x2="395.6" y2="507.4" stroke="#000" stroke-width="1.05"/>
<path d="M259.57 511.77L265.83 503.03" stroke="#000" stroke-width="1.3" fill="none"/>
<path d="M262.7 502.8L262.7 512" stroke="#000" stroke-width="0.8" fill="none"/>
<path d="M320.77 511.77L327.03 503.03" stroke="#000" stroke-width="1.3" fill="none"/>
<path d="M323.9 502.8L323.9 512" stroke="#000" stroke-width="0.8" fill="none"/>
<path d="M328.47 511.77L334.73 503.03" stroke="#000" stroke-width="1.3" fill="none"/>
<path d="M331.6 502.8L331.6 512" stroke="#000" stroke-width="0.8" fill="none"/>
<path d="M387.77 511.77L394.03 503.03" stroke="#000" stroke-width="1.3" fill="none"/>
<path d="M390.9 502.8L390.9 512" stroke="#000" stroke-width="0.8" fill="none"/>
<text transform="translate(294.6 501.17) rotate(0) scale(0.8 1)" font-size="15" text-anchor="middle" fill="#000" font-weight="normal" stroke="#000" stroke-width="0.18">115</text>
<text transform="translate(327.6 501.37) rotate(0) scale(0.8 1)" font-size="15" text-anchor="middle" fill="#000" font-weight="normal" stroke="#000" stroke-width="0.18">5</text>
<text transform="translate(360 501.37) rotate(0) scale(0.8 1)" font-size="15" text-anchor="middle" fill="#000" font-weight="normal" stroke="#000" stroke-width="0.18">115</text>
<path d="M356.47 300.37L362.73 291.63" stroke="#000" stroke-width="1.3" fill="none"/>
<path d="M355 296L364.2 296" stroke="#000" stroke-width="0.8" fill="none"/>
<path d="M356.47 373.77L362.73 365.03" stroke="#000" stroke-width="1.3" fill="none"/>
<path d="M355 369.4L364.2 369.4" stroke="#000" stroke-width="0.8" fill="none"/>
<path d="M356.47 385.42L362.73 376.68" stroke="#000" stroke-width="1.3" fill="none"/>
<path d="M355 381.05L364.2 381.05" stroke="#000" stroke-width="0.8" fill="none"/>
<path d="M356.47 400.77L362.73 392.03" stroke="#000" stroke-width="1.3" fill="none"/>
<path d="M355 396.4L364.2 396.4" stroke="#000" stroke-width="0.8" fill="none"/>
<path d="M356.47 416.12L362.73 407.38" stroke="#000" stroke-width="1.3" fill="none"/>
<path d="M355 411.75L364.2 411.75" stroke="#000" stroke-width="0.8" fill="none"/>
<path d="M356.47 431.47L362.73 422.73" stroke="#000" stroke-width="1.3" fill="none"/>
<path d="M355 427.1L364.2 427.1" stroke="#000" stroke-width="0.8" fill="none"/>
<path d="M356.47 446.82L362.73 438.08" stroke="#000" stroke-width="1.3" fill="none"/>
<path d="M355 442.45L364.2 442.45" stroke="#000" stroke-width="0.8" fill="none"/>
<path d="M356.47 462.17L362.73 453.43" stroke="#000" stroke-width="1.3" fill="none"/>
<path d="M355 457.8L364.2 457.8" stroke="#000" stroke-width="0.8" fill="none"/>
<path d="M356.47 477.52L362.73 468.78" stroke="#000" stroke-width="1.3" fill="none"/>
<path d="M355 473.15L364.2 473.15" stroke="#000" stroke-width="0.8" fill="none"/>
<path d="M356.47 492.87L362.73 484.13" stroke="#000" stroke-width="1.3" fill="none"/>
<path d="M355 488.5L364.2 488.5" stroke="#000" stroke-width="0.8" fill="none"/>
<path d="M356.47 511.77L362.73 503.03" stroke="#000" stroke-width="1.3" fill="none"/>
<path d="M355 507.4L364.2 507.4" stroke="#000" stroke-width="0.8" fill="none"/>
<path d="M356.47 557.57L362.73 548.83" stroke="#000" stroke-width="1.3" fill="none"/>
<path d="M355 553.2L364.2 553.2" stroke="#000" stroke-width="0.8" fill="none"/>
<text transform="translate(353.97 332) rotate(-90) scale(0.8 1)" font-size="15" text-anchor="middle" fill="#000" font-weight="normal" stroke="#000" stroke-width="0.18">125</text>
<text transform="translate(353.97 370) rotate(-90) scale(0.85 1)" font-size="15" text-anchor="middle" fill="#000" font-weight="normal" stroke="#000" stroke-width="0.18">28</text>
<text transform="translate(353.97 385.35) rotate(-90) scale(0.85 1)" font-size="15" text-anchor="middle" fill="#000" font-weight="normal" stroke="#000" stroke-width="0.18">28</text>
<text transform="translate(353.97 400.7) rotate(-90) scale(0.85 1)" font-size="15" text-anchor="middle" fill="#000" font-weight="normal" stroke="#000" stroke-width="0.18">28</text>
<text transform="translate(353.97 416.05) rotate(-90) scale(0.85 1)" font-size="15" text-anchor="middle" fill="#000" font-weight="normal" stroke="#000" stroke-width="0.18">28</text>
<text transform="translate(353.97 431.4) rotate(-90) scale(0.85 1)" font-size="15" text-anchor="middle" fill="#000" font-weight="normal" stroke="#000" stroke-width="0.18">28</text>
<text transform="translate(353.97 446.75) rotate(-90) scale(0.85 1)" font-size="15" text-anchor="middle" fill="#000" font-weight="normal" stroke="#000" stroke-width="0.18">28</text>
<text transform="translate(353.97 462.1) rotate(-90) scale(0.85 1)" font-size="15" text-anchor="middle" fill="#000" font-weight="normal" stroke="#000" stroke-width="0.18">28</text>
<text transform="translate(353.97 477.45) rotate(-90) scale(0.85 1)" font-size="15" text-anchor="middle" fill="#000" font-weight="normal" stroke="#000" stroke-width="0.18">28</text>
<text transform="translate(372.37 433) rotate(-90) scale(0.95 1)" font-size="15" text-anchor="middle" fill="#000" font-weight="normal" stroke="#000" stroke-width="0.18">9x16.67</text>
<text transform="translate(352.15 518) rotate(-90) scale(0.7 1)" font-size="13" text-anchor="middle" fill="#000" font-weight="normal" stroke="#000" stroke-width="0.18">121</text>
<line x1="51" y1="610.3" x2="602.6" y2="610.3" stroke="#000" stroke-width="1.05"/>
<path d="M52.67 614.67L58.93 605.93" stroke="#000" stroke-width="1.3" fill="none"/>
<path d="M55.8 605.7L55.8 614.9" stroke="#000" stroke-width="0.8" fill="none"/>
<path d="M131.07 614.67L137.33 605.93" stroke="#000" stroke-width="1.3" fill="none"/>
<path d="M134.2 605.7L134.2 614.9" stroke="#000" stroke-width="0.8" fill="none"/>
<path d="M145.37 614.67L151.63 605.93" stroke="#000" stroke-width="1.3" fill="none"/>
<path d="M148.5 605.7L148.5 614.9" stroke="#000" stroke-width="0.8" fill="none"/>
<path d="M186.87 614.67L193.13 605.93" stroke="#000" stroke-width="1.3" fill="none"/>
<path d="M190 605.7L190 614.9" stroke="#000" stroke-width="0.8" fill="none"/>
<path d="M191.47 614.67L197.73 605.93" stroke="#000" stroke-width="1.3" fill="none"/>
<path d="M194.6 605.7L194.6 614.9" stroke="#000" stroke-width="0.8" fill="none"/>
<path d="M194.67 614.67L200.93 605.93" stroke="#000" stroke-width="1.3" fill="none"/>
<path d="M197.8 605.7L197.8 614.9" stroke="#000" stroke-width="0.8" fill="none"/>
<path d="M198.87 614.67L205.13 605.93" stroke="#000" stroke-width="1.3" fill="none"/>
<path d="M202 605.7L202 614.9" stroke="#000" stroke-width="0.8" fill="none"/>
<path d="M202.37 614.67L208.63 605.93" stroke="#000" stroke-width="1.3" fill="none"/>
<path d="M205.5 605.7L205.5 614.9" stroke="#000" stroke-width="0.8" fill="none"/>
<path d="M244.27 614.67L250.53 605.93" stroke="#000" stroke-width="1.3" fill="none"/>
<path d="M247.4 605.7L247.4 614.9" stroke="#000" stroke-width="0.8" fill="none"/>
<path d="M257.87 614.67L264.13 605.93" stroke="#000" stroke-width="1.3" fill="none"/>
<path d="M261 605.7L261 614.9" stroke="#000" stroke-width="0.8" fill="none"/>
<path d="M317.27 614.67L323.53 605.93" stroke="#000" stroke-width="1.3" fill="none"/>
<path d="M320.4 605.7L320.4 614.9" stroke="#000" stroke-width="0.8" fill="none"/>
<path d="M594.67 614.67L600.93 605.93" stroke="#000" stroke-width="1.3" fill="none"/>
<path d="M597.8 605.7L597.8 614.9" stroke="#000" stroke-width="0.8" fill="none"/>
<path d="M516.27 614.67L522.53 605.93" stroke="#000" stroke-width="1.3" fill="none"/>
<path d="M519.4 605.7L519.4 614.9" stroke="#000" stroke-width="0.8" fill="none"/>
<path d="M501.97 614.67L508.23 605.93" stroke="#000" stroke-width="1.3" fill="none"/>
<path d="M505.1 605.7L505.1 614.9" stroke="#000" stroke-width="0.8" fill="none"/>
<path d="M460.47 614.67L466.73 605.93" stroke="#000" stroke-width="1.3" fill="none"/>
<path d="M463.6 605.7L463.6 614.9" stroke="#000" stroke-width="0.8" fill="none"/>
<path d="M455.87 614.67L462.13 605.93" stroke="#000" stroke-width="1.3" fill="none"/>
<path d="M459 605.7L459 614.9" stroke="#000" stroke-width="0.8" fill="none"/>
<path d="M452.67 614.67L458.93 605.93" stroke="#000" stroke-width="1.3" fill="none"/>
<path d="M455.8 605.7L455.8 614.9" stroke="#000" stroke-width="0.8" fill="none"/>
<path d="M448.47 614.67L454.73 605.93" stroke="#000" stroke-width="1.3" fill="none"/>
<path d="M451.6 605.7L451.6 614.9" stroke="#000" stroke-width="0.8" fill="none"/>
<path d="M444.97 614.67L451.23 605.93" stroke="#000" stroke-width="1.3" fill="none"/>
<path d="M448.1 605.7L448.1 614.9" stroke="#000" stroke-width="0.8" fill="none"/>
<path d="M403.07 614.67L409.33 605.93" stroke="#000" stroke-width="1.3" fill="none"/>
<path d="M406.2 605.7L406.2 614.9" stroke="#000" stroke-width="0.8" fill="none"/>
<path d="M389.47 614.67L395.73 605.93" stroke="#000" stroke-width="1.3" fill="none"/>
<path d="M392.6 605.7L392.6 614.9" stroke="#000" stroke-width="0.8" fill="none"/>
<path d="M330.07 614.67L336.33 605.93" stroke="#000" stroke-width="1.3" fill="none"/>
<path d="M333.2 605.7L333.2 614.9" stroke="#000" stroke-width="0.8" fill="none"/>
<text transform="translate(95.9 604.83) rotate(0) scale(0.8 1)" font-size="13.5" text-anchor="middle" fill="#000" font-weight="normal" stroke="#000" stroke-width="0.18">145</text>
<text transform="translate(141 604.83) rotate(0) scale(0.8 1)" font-size="13.5" text-anchor="middle" fill="#000" font-weight="normal" stroke="#000" stroke-width="0.18">25</text>
<text transform="translate(169 604.83) rotate(0) scale(0.8 1)" font-size="13.5" text-anchor="middle" fill="#000" font-weight="normal" stroke="#000" stroke-width="0.18">80</text>
<text transform="translate(197.3 604.83) rotate(0) scale(0.8 1)" font-size="13.5" text-anchor="middle" fill="#000" font-weight="normal" stroke="#000" stroke-width="0.18">105</text>
<text transform="translate(225.8 604.83) rotate(0) scale(0.8 1)" font-size="13.5" text-anchor="middle" fill="#000" font-weight="normal" stroke="#000" stroke-width="0.18">80</text>
<text transform="translate(254.6 604.83) rotate(0) scale(0.8 1)" font-size="13.5" text-anchor="middle" fill="#000" font-weight="normal" stroke="#000" stroke-width="0.18">25</text>
<text transform="translate(291.6 604.83) rotate(0) scale(0.8 1)" font-size="13.5" text-anchor="middle" fill="#000" font-weight="normal" stroke="#000" stroke-width="0.18">110</text>
<text transform="translate(327 604.83) rotate(0) scale(0.8 1)" font-size="13.5" text-anchor="middle" fill="#000" font-weight="normal" stroke="#000" stroke-width="0.18">25</text>
<text transform="translate(363.9 604.83) rotate(0) scale(0.8 1)" font-size="13.5" text-anchor="middle" fill="#000" font-weight="normal" stroke="#000" stroke-width="0.18">110</text>
<text transform="translate(400.2 604.83) rotate(0) scale(0.8 1)" font-size="13.5" text-anchor="middle" fill="#000" font-weight="normal" stroke="#000" stroke-width="0.18">25</text>
<text transform="translate(427.8 604.83) rotate(0) scale(0.8 1)" font-size="13.5" text-anchor="middle" fill="#000" font-weight="normal" stroke="#000" stroke-width="0.18">80</text>
<text transform="translate(456.6 604.83) rotate(0) scale(0.8 1)" font-size="13.5" text-anchor="middle" fill="#000" font-weight="normal" stroke="#000" stroke-width="0.18">510</text>
<text transform="translate(484.2 604.83) rotate(0) scale(0.8 1)" font-size="13.5" text-anchor="middle" fill="#000" font-weight="normal" stroke="#000" stroke-width="0.18">80</text>
<text transform="translate(512.8 604.83) rotate(0) scale(0.8 1)" font-size="13.5" text-anchor="middle" fill="#000" font-weight="normal" stroke="#000" stroke-width="0.18">25</text>
<text transform="translate(558.7 604.83) rotate(0) scale(0.8 1)" font-size="13.5" text-anchor="middle" fill="#000" font-weight="normal" stroke="#000" stroke-width="0.18">145</text>
<text transform="translate(664.5 31) rotate(-90) scale(0.85 1)" font-size="15" text-anchor="middle" fill="#000" font-weight="normal" stroke="#000" stroke-width="0.18">20</text>
<text transform="translate(664.5 85) rotate(-90) scale(0.85 1)" font-size="15" text-anchor="middle" fill="#000" font-weight="normal" stroke="#000" stroke-width="0.18">180</text>
<text transform="translate(664.5 141) rotate(-90) scale(0.85 1)" font-size="15" text-anchor="middle" fill="#000" font-weight="normal" stroke="#000" stroke-width="0.18">250</text>
<text transform="translate(664.5 217) rotate(-90) scale(0.85 1)" font-size="15" text-anchor="middle" fill="#000" font-weight="normal" stroke="#000" stroke-width="0.18">275</text>
<text transform="translate(664.5 290) rotate(-90) scale(0.85 1)" font-size="15" text-anchor="middle" fill="#000" font-weight="normal" stroke="#000" stroke-width="0.18">35</text>
<text transform="translate(664.5 424) rotate(-90) scale(0.85 1)" font-size="15" text-anchor="middle" fill="#000" font-weight="normal" stroke="#000" stroke-width="0.18">425</text>
<text transform="translate(664.5 563) rotate(-90) scale(0.85 1)" font-size="15" text-anchor="middle" fill="#000" font-weight="normal" stroke="#000" stroke-width="0.18">35</text>
<text transform="translate(664.5 674.5) rotate(-90) scale(0.85 1)" font-size="15" text-anchor="middle" fill="#000" font-weight="normal" stroke="#000" stroke-width="0.18">705</text>
<text transform="translate(664.5 793.5) rotate(-90) scale(0.85 1)" font-size="15" text-anchor="middle" fill="#000" font-weight="normal" stroke="#000" stroke-width="0.18">425</text>
<rect x="579.4" y="108.4" width="13.6" height="13.4" fill="none" stroke="#000" stroke-width="1.05"/>
<text transform="translate(586.2 120.14) rotate(0) scale(0.58 1)" font-size="14" text-anchor="middle" fill="#000" font-weight="normal" stroke="#000" stroke-width="0.3">Z1</text>
<line x1="586.2" y1="121.8" x2="586.2" y2="153.6" stroke="#000" stroke-width="1.05"/>
<rect x="630.3" y="327.6" width="13.6" height="13.4" fill="none" stroke="#000" stroke-width="1.05"/>
<text transform="translate(637.1 339.34) rotate(0) scale(0.58 1)" font-size="14" text-anchor="middle" fill="#000" font-weight="normal" stroke="#000" stroke-width="0.3">Z1</text>
<line x1="565.3" y1="334.6" x2="630.3" y2="334.6" stroke="#000" stroke-width="1.05"/>
<rect x="11.2" y="675.3" width="13.6" height="13.4" fill="none" stroke="#000" stroke-width="1.05"/>
<text transform="translate(18 687.04) rotate(0) scale(0.58 1)" font-size="14" text-anchor="middle" fill="#000" font-weight="normal" stroke="#000" stroke-width="0.3">Z1</text>
<line x1="24.8" y1="682" x2="55.8" y2="682" stroke="#000" stroke-width="1.05"/>
<rect x="630.3" y="675.3" width="13.6" height="13.4" fill="none" stroke="#000" stroke-width="1.05"/>
<text transform="translate(637.1 687.04) rotate(0) scale(0.58 1)" font-size="14" text-anchor="middle" fill="#000" font-weight="normal" stroke="#000" stroke-width="0.3">Z1</text>
<line x1="597.8" y1="682" x2="630.3" y2="682" stroke="#000" stroke-width="1.05"/>
<rect x="176.4" y="813.3" width="13.6" height="13.4" fill="none" stroke="#000" stroke-width="1.05"/>
<text transform="translate(183.2 825.04) rotate(0) scale(0.58 1)" font-size="14" text-anchor="middle" fill="#000" font-weight="normal" stroke="#000" stroke-width="0.3">Z1</text>
<line x1="183.2" y1="781.8" x2="183.2" y2="813.3" stroke="#000" stroke-width="1.05"/>
<rect x="465.5" y="813.3" width="13.6" height="13.4" fill="none" stroke="#000" stroke-width="1.05"/>
<text transform="translate(472.3 825.04) rotate(0) scale(0.58 1)" font-size="14" text-anchor="middle" fill="#000" font-weight="normal" stroke="#000" stroke-width="0.3">Z1</text>
<line x1="471.9" y1="781.8" x2="471.9" y2="813.3" stroke="#000" stroke-width="1.05"/>
<rect x="10.7" y="395.5" width="13.6" height="13.4" fill="none" stroke="#000" stroke-width="1.05"/>
<text transform="translate(17.5 407.24) rotate(0) scale(0.58 1)" font-size="14" text-anchor="middle" fill="#000" font-weight="normal" stroke="#000" stroke-width="0.3">Z2</text>
<line x1="24.3" y1="402.2" x2="55.8" y2="402.2" stroke="#000" stroke-width="1.05"/>
<rect x="288" y="251.8" width="13.6" height="13.4" fill="none" stroke="#000" stroke-width="1.05"/>
<text transform="translate(294.8 263.54) rotate(0) scale(0.58 1)" font-size="14" text-anchor="middle" fill="#000" font-weight="normal" stroke="#000" stroke-width="0.3">Z3</text>
<line x1="294.6" y1="265.2" x2="294.6" y2="296.7" stroke="#000" stroke-width="1.05"/>
<rect x="218.2" y="417.8" width="13.6" height="13.4" fill="none" stroke="#000" stroke-width="1.05"/>
<text transform="translate(225 429.54) rotate(0) scale(0.58 1)" font-size="14" text-anchor="middle" fill="#000" font-weight="normal" stroke="#000" stroke-width="0.3">Z3</text>
<rect x="424.1" y="417.3" width="13.6" height="13.4" fill="none" stroke="#000" stroke-width="1.05"/>
<text transform="translate(430.9 429.04) rotate(0) scale(0.58 1)" font-size="14" text-anchor="middle" fill="#000" font-weight="normal" stroke="#000" stroke-width="0.3">Z3</text>
<rect x="287.8" y="584.6" width="13.6" height="13.4" fill="none" stroke="#000" stroke-width="1.05"/>
<text transform="translate(294.6 596.34) rotate(0) scale(0.58 1)" font-size="14" text-anchor="middle" fill="#000" font-weight="normal" stroke="#000" stroke-width="0.3">Z3</text>
<line x1="294.6" y1="553.2" x2="294.6" y2="584.6" stroke="#000" stroke-width="1.05"/>
<rect x="352.3" y="76.7" width="13.6" height="13.4" fill="#fff" stroke="none" stroke-width="0"/>
<rect x="352.3" y="76.7" width="13.6" height="13.4" fill="none" stroke="#000" stroke-width="1.05"/>
<text transform="translate(359.1 88.44) rotate(0) scale(0.58 1)" font-size="14" text-anchor="middle" fill="#000" font-weight="normal" stroke="#000" stroke-width="0.3">Zp1</text>
<rect x="352.2" y="210.9" width="13.6" height="13.4" fill="none" stroke="#000" stroke-width="1.05"/>
<text transform="translate(359 222.64) rotate(0) scale(0.58 1)" font-size="14" text-anchor="middle" fill="#000" font-weight="normal" stroke="#000" stroke-width="0.3">Zp1</text>
<line x1="343.9" y1="217.6" x2="352.2" y2="217.6" stroke="#000" stroke-width="1.05"/>
<rect x="76.4" y="396.8" width="13.6" height="13.4" fill="none" stroke="#000" stroke-width="1.05"/>
<text transform="translate(83.2 408.54) rotate(0) scale(0.58 1)" font-size="14" text-anchor="middle" fill="#000" font-weight="normal" stroke="#000" stroke-width="0.3">Zp2</text>
<line x1="82.7" y1="410.2" x2="82.7" y2="441.7" stroke="#000" stroke-width="1.05"/>
<rect x="566.3" y="397" width="13.6" height="13.4" fill="none" stroke="#000" stroke-width="1.05"/>
<text transform="translate(573.1 408.74) rotate(0) scale(0.58 1)" font-size="14" text-anchor="middle" fill="#000" font-weight="normal" stroke="#000" stroke-width="0.3">Zp2</text>
<line x1="573.1" y1="410.4" x2="573.1" y2="441.7" stroke="#000" stroke-width="1.05"/>
<rect x="225.3" y="467.7" width="13.6" height="13.4" fill="none" stroke="#000" stroke-width="1.05"/>
<text transform="translate(232.1 479.44) rotate(0) scale(0.58 1)" font-size="14" text-anchor="middle" fill="#000" font-weight="normal" stroke="#000" stroke-width="0.3">Zp2</text>
<rect x="487.2" y="467.7" width="13.6" height="13.4" fill="none" stroke="#000" stroke-width="1.05"/>
<text transform="translate(494 479.44) rotate(0) scale(0.58 1)" font-size="14" text-anchor="middle" fill="#000" font-weight="normal" stroke="#000" stroke-width="0.3">Zp2</text>
<line x1="198.6" y1="474" x2="225.3" y2="474" stroke="#000" stroke-width="1.05"/>
<line x1="455" y1="473" x2="487.2" y2="473" stroke="#000" stroke-width="1.05"/>
<rect x="219.6" y="515.5" width="13.6" height="13.4" fill="none" stroke="#000" stroke-width="1.05"/>
<text transform="translate(226.4 527.24) rotate(0) scale(0.58 1)" font-size="14" text-anchor="middle" fill="#000" font-weight="normal" stroke="#000" stroke-width="0.3">Zp2</text>
<line x1="226.4" y1="528.9" x2="226.4" y2="572.2" stroke="#000" stroke-width="1.05"/>
<rect x="410.3" y="515.5" width="13.6" height="13.4" fill="none" stroke="#000" stroke-width="1.05"/>
<text transform="translate(417.1 527.24) rotate(0) scale(0.58 1)" font-size="14" text-anchor="middle" fill="#000" font-weight="normal" stroke="#000" stroke-width="0.3">Zp2</text>
<line x1="417.1" y1="528.9" x2="417.1" y2="554.8" stroke="#000" stroke-width="1.05"/>
<rect x="171.5" y="532.6" width="13.6" height="13.4" fill="none" stroke="#000" stroke-width="1.05"/>
<text transform="translate(178.3 544.34) rotate(0) scale(0.58 1)" font-size="14" text-anchor="middle" fill="#000" font-weight="normal" stroke="#000" stroke-width="0.3">Zp2</text>
<line x1="144.2" y1="539.3" x2="171.5" y2="539.3" stroke="#000" stroke-width="1.05"/>
<rect x="540.5" y="526.7" width="13.6" height="13.4" fill="none" stroke="#000" stroke-width="1.05"/>
<text transform="translate(547.3 538.44) rotate(0) scale(0.58 1)" font-size="14" text-anchor="middle" fill="#000" font-weight="normal" stroke="#000" stroke-width="0.3">Zp2</text>
<line x1="509.4" y1="533.6" x2="540.5" y2="533.6" stroke="#000" stroke-width="1.05"/>
<rect x="228.1" y="665.1" width="13.6" height="13.4" fill="none" stroke="#000" stroke-width="1.05"/>
<text transform="translate(234.9 676.84) rotate(0) scale(0.58 1)" font-size="14" text-anchor="middle" fill="#000" font-weight="normal" stroke="#000" stroke-width="0.3">Zp2</text>
<line x1="201.8" y1="671.3" x2="228.1" y2="671.3" stroke="#000" stroke-width="1.05"/>
<rect x="484.1" y="665.1" width="13.6" height="13.4" fill="none" stroke="#000" stroke-width="1.05"/>
<text transform="translate(490.9 676.84) rotate(0) scale(0.58 1)" font-size="14" text-anchor="middle" fill="#000" font-weight="normal" stroke="#000" stroke-width="0.3">Zp2</text>
<line x1="457.4" y1="671.3" x2="484.1" y2="671.3" stroke="#000" stroke-width="1.05"/>
<rect x="68.8" y="523.7" width="13.6" height="13.4" fill="none" stroke="#000" stroke-width="1.05"/>
<text transform="translate(75.6 535.44) rotate(0) scale(0.58 1)" font-size="14" text-anchor="middle" fill="#000" font-weight="normal" stroke="#000" stroke-width="0.3">Zu1</text>
<line x1="75.6" y1="537.1" x2="75.6" y2="560" stroke="#000" stroke-width="1.05"/>
<rect x="571.2" y="524.2" width="13.6" height="13.4" fill="none" stroke="#000" stroke-width="1.05"/>
<text transform="translate(578 535.94) rotate(0) scale(0.58 1)" font-size="14" text-anchor="middle" fill="#000" font-weight="normal" stroke="#000" stroke-width="0.3">Zu1</text>
<line x1="578" y1="537.6" x2="578" y2="560" stroke="#000" stroke-width="1.05"/>
<path d="M157.3 197.6H180.3A11.5 11.2 0 0 1 157.3 197.6Z" fill="none" stroke="#000" stroke-width="1.1"/>
<text transform="translate(168.8 206.64) rotate(0) scale(0.6 1)" font-size="12" text-anchor="middle" fill="#000" font-weight="normal" stroke="#000" stroke-width="0.35">MK1</text>
<path d="M485.2 200.2H508.2A11.5 11.2 0 0 1 485.2 200.2Z" fill="none" stroke="#000" stroke-width="1.1"/>
<text transform="translate(496.7 209.24) rotate(0) scale(0.6 1)" font-size="12" text-anchor="middle" fill="#000" font-weight="normal" stroke="#000" stroke-width="0.35">MK1</text>
<path d="M211.2 449.6H234.2A11.5 11.2 0 0 1 211.2 449.6Z" fill="none" stroke="#000" stroke-width="1.1"/>
<text transform="translate(222.7 458.64) rotate(0) scale(0.6 1)" font-size="12" text-anchor="middle" fill="#000" font-weight="normal" stroke="#000" stroke-width="0.35">MK1</text>
<path d="M415 450.5H438A11.5 11.2 0 0 1 415 450.5Z" fill="none" stroke="#000" stroke-width="1.1"/>
<text transform="translate(426.5 459.54) rotate(0) scale(0.6 1)" font-size="12" text-anchor="middle" fill="#000" font-weight="normal" stroke="#000" stroke-width="0.35">MK1</text>
<path d="M154.5 741.6H177.5A11.5 11.2 0 0 1 154.5 741.6Z" fill="none" stroke="#000" stroke-width="1.1"/>
<text transform="translate(166 750.64) rotate(0) scale(0.6 1)" font-size="12" text-anchor="middle" fill="#000" font-weight="normal" stroke="#000" stroke-width="0.35">MK1</text>
<path d="M233.7 741.6H256.7A11.5 11.2 0 0 1 233.7 741.6Z" fill="none" stroke="#000" stroke-width="1.1"/>
<text transform="translate(245.2 750.64) rotate(0) scale(0.6 1)" font-size="12" text-anchor="middle" fill="#000" font-weight="normal" stroke="#000" stroke-width="0.35">MK1</text>
<path d="M406.9 730.3H429.9A11.5 11.2 0 0 1 406.9 730.3Z" fill="none" stroke="#000" stroke-width="1.1"/>
<text transform="translate(418.4 739.34) rotate(0) scale(0.6 1)" font-size="12" text-anchor="middle" fill="#000" font-weight="normal" stroke="#000" stroke-width="0.35">MK1</text>
<path d="M479 737H502A11.5 11.2 0 0 1 479 737Z" fill="none" stroke="#000" stroke-width="1.1"/>
<text transform="translate(490.5 746.04) rotate(0) scale(0.6 1)" font-size="12" text-anchor="middle" fill="#000" font-weight="normal" stroke="#000" stroke-width="0.35">MK1</text>
<path d="M100.8 484.7H123.8A11.5 11.2 0 0 1 100.8 484.7Z" fill="none" stroke="#000" stroke-width="1.1"/>
<text transform="translate(112.3 493.74) rotate(0) scale(0.6 1)" font-size="12" text-anchor="middle" fill="#000" font-weight="normal" stroke="#000" stroke-width="0.35">MK2</text>
<path d="M519.5 491.4H542.5A11.5 11.2 0 0 1 519.5 491.4Z" fill="none" stroke="#000" stroke-width="1.1"/>
<text transform="translate(531 500.44) rotate(0) scale(0.6 1)" font-size="12" text-anchor="middle" fill="#000" font-weight="normal" stroke="#000" stroke-width="0.35">MK2</text>
<path d="M348.5 531H371.5A11.5 11.2 0 0 1 348.5 531Z" fill="none" stroke="#000" stroke-width="1.1"/>
<text transform="translate(360 540.04) rotate(0) scale(0.6 1)" font-size="12" text-anchor="middle" fill="#000" font-weight="normal" stroke="#000" stroke-width="0.35">MK4</text>
<path d="M245.5 60.8H268.5A11.5 10.8 0 0 1 245.5 60.8Z" fill="none" stroke="#000" stroke-width="1.1"/>
<text transform="translate(257 69.84) rotate(0) scale(0.6 1)" font-size="12" text-anchor="middle" fill="#000" font-weight="normal" stroke="#000" stroke-width="0.35">T1</text>
<path d="M381.7 57.4H405.3A11.8 10.9 0 0 1 381.7 57.4Z" fill="none" stroke="#000" stroke-width="1.1"/>
<text transform="translate(393.5 66.44) rotate(0) scale(0.6 1)" font-size="12" text-anchor="middle" fill="#000" font-weight="normal" stroke="#000" stroke-width="0.35">T1</text>
<circle cx="224.2" cy="92.3" r="7.6" fill="none" stroke="#000" stroke-width="1.6"/>
<text transform="translate(224.2 97.52) rotate(0) scale(0.9 1)" font-size="14.5" text-anchor="middle" fill="#000" font-weight="bold" stroke="#000" stroke-width="0.4">6</text>
<circle cx="448.4" cy="84.6" r="9" fill="none" stroke="#000" stroke-width="1.7"/>
<text transform="translate(448.4 90.18) rotate(0) scale(0.9 1)" font-size="15.5" text-anchor="middle" fill="#000" font-weight="bold" stroke="#000" stroke-width="0.5">11</text>
<circle cx="187" cy="366.5" r="7.6" fill="none" stroke="#000" stroke-width="1.2"/>
<text transform="translate(187 371.72) rotate(0) scale(0.9 1)" font-size="14.5" text-anchor="middle" fill="#000" font-weight="bold" stroke="#000" stroke-width="0.2">1</text>
<circle cx="470.4" cy="387.8" r="7.6" fill="none" stroke="#000" stroke-width="1.2"/>
<text transform="translate(470.4 393.02) rotate(0) scale(0.9 1)" font-size="14.5" text-anchor="middle" fill="#000" font-weight="bold" stroke="#000" stroke-width="0.2">7</text>
<circle cx="198" cy="527.1" r="7.6" fill="none" stroke="#000" stroke-width="1.2"/>
<text transform="translate(198 532.32) rotate(0) scale(0.9 1)" font-size="14.5" text-anchor="middle" fill="#000" font-weight="bold" stroke="#000" stroke-width="0.2">2</text>
<circle cx="89.6" cy="490.1" r="6.9" fill="none" stroke="#000" stroke-width="1.2"/>
<text transform="translate(89.6 495.32) rotate(0) scale(0.9 1)" font-size="14.5" text-anchor="middle" fill="#000" font-weight="bold" stroke="#000" stroke-width="0.2">3</text>
<circle cx="124.8" cy="620.8" r="7.9" fill="none" stroke="#000" stroke-width="1.2"/>
<text transform="translate(124.8 626.02) rotate(0) scale(0.9 1)" font-size="14.5" text-anchor="middle" fill="#000" font-weight="bold" stroke="#000" stroke-width="0.2">4</text>
<circle cx="219.7" cy="619.8" r="7.6" fill="none" stroke="#000" stroke-width="1.2"/>
<text transform="translate(219.7 625.02) rotate(0) scale(0.9 1)" font-size="14.5" text-anchor="middle" fill="#000" font-weight="bold" stroke="#000" stroke-width="0.2">5</text>
<circle cx="434.8" cy="526.5" r="7.6" fill="none" stroke="#000" stroke-width="1.2"/>
<text transform="translate(434.8 531.72) rotate(0) scale(0.9 1)" font-size="14.5" text-anchor="middle" fill="#000" font-weight="bold" stroke="#000" stroke-width="0.2">8</text>
<circle cx="473.7" cy="621" r="7.6" fill="none" stroke="#000" stroke-width="1.2"/>
<text transform="translate(473.7 626.22) rotate(0) scale(0.9 1)" font-size="14.5" text-anchor="middle" fill="#000" font-weight="bold" stroke="#000" stroke-width="0.2">9</text>
<circle cx="405.2" cy="619.3" r="8" fill="none" stroke="#000" stroke-width="1.2"/>
<text transform="translate(405.2 624.52) rotate(0) scale(0.9 1)" font-size="14.5" text-anchor="middle" fill="#000" font-weight="bold" stroke="#000" stroke-width="0.2">10</text>
<circle cx="339.2" cy="512.6" r="6.5" fill="none" stroke="#000" stroke-width="1.2"/>
<text transform="translate(339.2 517.82) rotate(0) scale(0.9 1)" font-size="14.5" text-anchor="middle" fill="#000" font-weight="bold" stroke="#000" stroke-width="0.2">0</text>
<rect x="112" y="348.5" width="53.5" height="19.8" fill="none" stroke="#222" stroke-width="1"/>
<text transform="translate(117 362.6) rotate(0) scale(1 1)" font-size="13.5" text-anchor="start" fill="#222b33" font-weight="normal">STAN 5</text>
<rect x="447.5" y="348.8" width="53.5" height="19.4" fill="none" stroke="#222" stroke-width="1"/>
<text transform="translate(452.6 362.6) rotate(0) scale(1 1)" font-size="13.5" text-anchor="start" fill="#222b33" font-weight="normal">STAN 6</text>
<circle cx="157.4" cy="332.4" r="4.9" fill="none" stroke="#000" stroke-width="1.2"/>
<path d="M157.4 332.4L157.4 327.5A4.9 4.9 0 0 1 162.3 332.4Z" fill="#000" stroke="#000" stroke-width="0.5"/>
<path d="M157.4 332.4L157.4 337.3A4.9 4.9 0 0 1 152.5 332.4Z" fill="#000" stroke="#000" stroke-width="0.5"/>
<line x1="147.2" y1="332.4" x2="167.8" y2="332.4" stroke="#000" stroke-width="1"/>
<line x1="157.4" y1="321.8" x2="157.4" y2="343.6" stroke="#000" stroke-width="1"/>
<text transform="translate(164.8 329.6) rotate(0) scale(0.86 1)" font-size="10" text-anchor="start" fill="#0a1c1c" font-weight="bold" stroke="#0a1c1c" stroke-width="0.15">+6.00</text>
<circle cx="474.9" cy="332.6" r="4.9" fill="none" stroke="#000" stroke-width="1.2"/>
<path d="M474.9 332.6L474.9 327.7A4.9 4.9 0 0 1 479.8 332.6Z" fill="#000" stroke="#000" stroke-width="0.5"/>
<path d="M474.9 332.6L474.9 337.5A4.9 4.9 0 0 1 470 332.6Z" fill="#000" stroke="#000" stroke-width="0.5"/>
<line x1="464.7" y1="332.6" x2="485.3" y2="332.6" stroke="#000" stroke-width="1"/>
<line x1="474.9" y1="322" x2="474.9" y2="343.8" stroke="#000" stroke-width="1"/>
<text transform="translate(482.3 329.8) rotate(0) scale(0.86 1)" font-size="10" text-anchor="start" fill="#0a1c1c" font-weight="bold" stroke="#0a1c1c" stroke-width="0.15">+6.00</text>
<text transform="translate(136.3 117.3) rotate(90) scale(0.66 1)" font-size="11.5" text-anchor="start" fill="#000" font-weight="normal" stroke="#000" stroke-width="0.35">220+20</text>
<text transform="translate(154.1 131) rotate(90) scale(0.58 1)" font-size="13" text-anchor="start" fill="#000" font-weight="normal" stroke="#000" stroke-width="0.3">260</text>
<text transform="translate(489.7 117.3) rotate(90) scale(0.66 1)" font-size="11.5" text-anchor="start" fill="#000" font-weight="normal" stroke="#000" stroke-width="0.35">220+20</text>
<text transform="translate(507.5 131) rotate(90) scale(0.58 1)" font-size="13" text-anchor="start" fill="#000" font-weight="normal" stroke="#000" stroke-width="0.3">260</text>
<text transform="translate(109.8 792.3) rotate(90) scale(0.55 1)" font-size="14" text-anchor="start" fill="#000" font-weight="normal" stroke="#000" stroke-width="0.3">120+20</text>
<text transform="translate(126.1 792.3) rotate(90) scale(0.58 1)" font-size="13" text-anchor="start" fill="#000" font-weight="normal" stroke="#000" stroke-width="0.15">120</text>
<text transform="translate(228.9 792.3) rotate(90) scale(0.55 1)" font-size="14" text-anchor="start" fill="#000" font-weight="normal" stroke="#000" stroke-width="0.3">120+20</text>
<text transform="translate(245.2 792.3) rotate(90) scale(0.58 1)" font-size="13" text-anchor="start" fill="#000" font-weight="normal" stroke="#000" stroke-width="0.15">120</text>
<text transform="translate(398.5 792.3) rotate(90) scale(0.55 1)" font-size="14" text-anchor="start" fill="#000" font-weight="normal" stroke="#000" stroke-width="0.3">120+20</text>
<text transform="translate(414.8 792.3) rotate(90) scale(0.58 1)" font-size="13" text-anchor="start" fill="#000" font-weight="normal" stroke="#000" stroke-width="0.15">120</text>
<text transform="translate(517.6 792.3) rotate(90) scale(0.55 1)" font-size="14" text-anchor="start" fill="#000" font-weight="normal" stroke="#000" stroke-width="0.3">120+20</text>
<text transform="translate(533.9 792.3) rotate(90) scale(0.58 1)" font-size="13" text-anchor="start" fill="#000" font-weight="normal" stroke="#000" stroke-width="0.15">120</text>
<text transform="translate(255.6 328.8) rotate(0) scale(0.47 1)" font-size="15.5" text-anchor="middle" fill="#000" font-weight="normal" stroke="#000" stroke-width="0.3">100</text>
<text transform="translate(255.6 346.3) rotate(0) scale(0.47 1)" font-size="15.5" text-anchor="middle" fill="#000" font-weight="normal" stroke="#000" stroke-width="0.3">210</text>
<text transform="translate(398 328.8) rotate(0) scale(0.47 1)" font-size="15.5" text-anchor="middle" fill="#000" font-weight="normal" stroke="#000" stroke-width="0.3">100</text>
<text transform="translate(398 346.3) rotate(0) scale(0.47 1)" font-size="15.5" text-anchor="middle" fill="#000" font-weight="normal" stroke="#000" stroke-width="0.3">210</text>
<text transform="translate(156.7 506.8) rotate(90) scale(0.55 1)" font-size="14" text-anchor="start" fill="#000" font-weight="normal" stroke="#000" stroke-width="0.3">200</text>
<text transform="translate(172.4 506.8) rotate(90) scale(0.62 1)" font-size="13" text-anchor="start" fill="#000" font-weight="normal" stroke="#000" stroke-width="0.15">85</text>
<text transform="translate(468.7 506.8) rotate(90) scale(0.55 1)" font-size="14" text-anchor="start" fill="#000" font-weight="normal" stroke="#000" stroke-width="0.3">200</text>
<text transform="translate(484.4 506.8) rotate(90) scale(0.62 1)" font-size="13" text-anchor="start" fill="#000" font-weight="normal" stroke="#000" stroke-width="0.15">85</text>
<text transform="translate(156 548.2) rotate(90) scale(0.55 1)" font-size="14" text-anchor="start" fill="#000" font-weight="normal" stroke="#000" stroke-width="0.3">200</text>
<text transform="translate(172 551.5) rotate(90) scale(0.55 1)" font-size="14" text-anchor="start" fill="#000" font-weight="normal" stroke="#000" stroke-width="0.2">70</text>
<text transform="translate(211.9 548.2) rotate(90) scale(0.55 1)" font-size="14" text-anchor="start" fill="#000" font-weight="normal" stroke="#000" stroke-width="0.3">200</text>
<text transform="translate(227.9 551.5) rotate(90) scale(0.55 1)" font-size="14" text-anchor="start" fill="#000" font-weight="normal" stroke="#000" stroke-width="0.2">70</text>
<text transform="translate(412.9 548.2) rotate(90) scale(0.55 1)" font-size="14" text-anchor="start" fill="#000" font-weight="normal" stroke="#000" stroke-width="0.3">200</text>
<text transform="translate(428.9 551.5) rotate(90) scale(0.55 1)" font-size="14" text-anchor="start" fill="#000" font-weight="normal" stroke="#000" stroke-width="0.2">70</text>
<text transform="translate(468.8 548.2) rotate(90) scale(0.55 1)" font-size="14" text-anchor="start" fill="#000" font-weight="normal" stroke="#000" stroke-width="0.3">200</text>
<text transform="translate(484.8 551.5) rotate(90) scale(0.55 1)" font-size="14" text-anchor="start" fill="#000" font-weight="normal" stroke="#000" stroke-width="0.2">70</text>
<text transform="translate(102.5 775.5) rotate(0) scale(0.58 1)" font-size="12.5" text-anchor="middle" fill="#000" font-weight="normal" stroke="#000" stroke-width="0.25">p=100</text>
<text transform="translate(223.7 776.5) rotate(0) scale(0.58 1)" font-size="12.5" text-anchor="middle" fill="#000" font-weight="normal" stroke="#000" stroke-width="0.25">p=100</text>
<text transform="translate(388.6 774) rotate(0) scale(0.58 1)" font-size="12.5" text-anchor="middle" fill="#000" font-weight="normal" stroke="#000" stroke-width="0.25">p=100</text>
<text transform="translate(510.5 774.5) rotate(0) scale(0.58 1)" font-size="12.5" text-anchor="middle" fill="#000" font-weight="normal" stroke="#000" stroke-width="0.25">p=100</text>
<text transform="translate(607.6 482.8) rotate(0) scale(0.5 1)" font-size="16" text-anchor="start" fill="#000" font-weight="normal" stroke="#000" stroke-width="0.2">60</text>
<text transform="translate(607.6 498.9) rotate(0) scale(0.52 1)" font-size="15" text-anchor="start" fill="#000" font-weight="normal" stroke="#000" stroke-width="0.2">80+20</text>
<text transform="translate(581.8 496.2) rotate(90) scale(0.6 1)" font-size="12.5" text-anchor="start" fill="#000" font-weight="normal" stroke="#000" stroke-width="0.15">4</text>
<text transform="translate(584.6 509.7) rotate(90) scale(0.56 1)" font-size="13" text-anchor="start" fill="#000" font-weight="normal" stroke="#000" stroke-width="0.15">40</text></svg></body></html>
